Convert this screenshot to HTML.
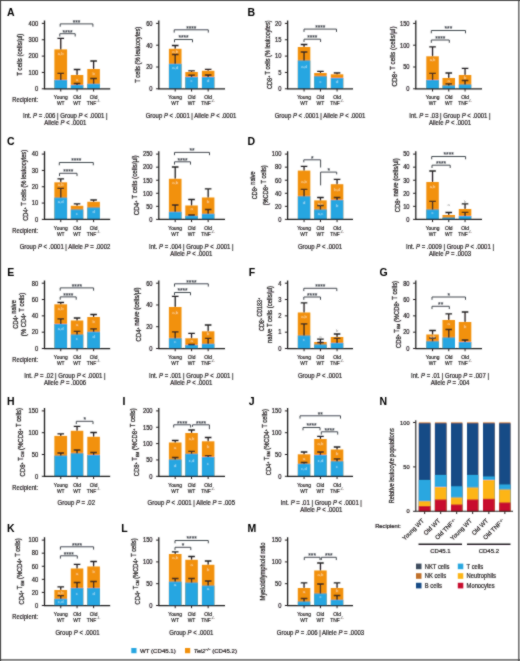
<!DOCTYPE html>
<html><head><meta charset="utf-8"><style>
html,body{margin:0;padding:0;background:#fff;}
body{width:520px;height:661px;overflow:hidden;font-family:"Liberation Sans",sans-serif;}
svg{display:block;will-change:transform;}
</style></head><body>
<svg width="520" height="661" viewBox="0 0 520 661" font-family="Liberation Sans, sans-serif">
<defs><filter id="bl" x="0" y="0" width="520" height="661" filterUnits="userSpaceOnUse"><feConvolveMatrix order="3" kernelMatrix="1 2 1 2 16 2 1 2 1" divisor="28" edgeMode="duplicate" preserveAlpha="false"/></filter></defs>
<rect width="520" height="661" fill="#fff"/>
<g filter="url(#bl)">
<text x="7.00" y="15.80" font-size="10.5" text-anchor="start" fill="#000" font-weight="bold">A</text>
<text x="247.50" y="15.80" font-size="10.5" text-anchor="start" fill="#000" font-weight="bold">B</text>
<text x="7.00" y="145.00" font-size="10.5" text-anchor="start" fill="#000" font-weight="bold">C</text>
<text x="247.50" y="145.00" font-size="10.5" text-anchor="start" fill="#000" font-weight="bold">D</text>
<text x="7.30" y="275.50" font-size="10.5" text-anchor="start" fill="#000" font-weight="bold">E</text>
<text x="248.70" y="275.50" font-size="10.5" text-anchor="start" fill="#000" font-weight="bold">F</text>
<text x="379.50" y="275.50" font-size="10.5" text-anchor="start" fill="#000" font-weight="bold">G</text>
<text x="7.00" y="405.00" font-size="10.5" text-anchor="start" fill="#000" font-weight="bold">H</text>
<text x="122.50" y="405.00" font-size="10.5" text-anchor="start" fill="#000" font-weight="bold">I</text>
<text x="248.70" y="405.00" font-size="10.5" text-anchor="start" fill="#000" font-weight="bold">J</text>
<text x="379.50" y="405.00" font-size="10.5" text-anchor="start" fill="#000" font-weight="bold">N</text>
<text x="7.00" y="532.00" font-size="10.5" text-anchor="start" fill="#000" font-weight="bold">K</text>
<text x="121.30" y="532.00" font-size="10.5" text-anchor="start" fill="#000" font-weight="bold">L</text>
<text x="247.50" y="532.00" font-size="10.5" text-anchor="start" fill="#000" font-weight="bold">M</text>
<rect x="54.4" y="49.4" width="12.70" height="39.40" fill="#F2910A"/>
<rect x="54.4" y="79.9" width="12.70" height="8.90" fill="#25A6E1"/>
<rect x="70.8" y="75.0" width="12.50" height="13.80" fill="#F2910A"/>
<rect x="70.8" y="85.0" width="12.50" height="3.80" fill="#25A6E1"/>
<rect x="87.3" y="69.0" width="12.60" height="19.80" fill="#F2910A"/>
<rect x="87.3" y="83.8" width="12.60" height="5.00" fill="#25A6E1"/>
<path d="M60.75 49.40V38.40M57.45 38.40H64.05" stroke="#231F20" stroke-width="1.3" fill="none"/>
<path d="M60.75 79.90V73.40M57.45 73.40H64.05" stroke="#231F20" stroke-width="1.3" fill="none"/>
<text x="60.75" y="55.10" font-size="4.2" text-anchor="middle" fill="#fff" font-weight="normal" opacity="0.7">a,b</text>
<path d="M77.05 75.00V69.50M73.75 69.50H80.35" stroke="#231F20" stroke-width="1.3" fill="none"/>
<path d="M77.05 85.00V83.50M73.75 83.50H80.35" stroke="#231F20" stroke-width="1.3" fill="none"/>
<text x="77.05" y="80.80" font-size="4.2" text-anchor="middle" fill="#fff" font-weight="normal" opacity="0.7">a</text>
<path d="M93.60 69.00V61.00M90.30 61.00H96.90" stroke="#231F20" stroke-width="1.3" fill="none"/>
<path d="M93.60 83.80V78.50M90.30 78.50H96.90" stroke="#231F20" stroke-width="1.3" fill="none"/>
<text x="93.60" y="74.80" font-size="4.2" text-anchor="middle" fill="#fff" font-weight="normal" opacity="0.7">b</text>
<path d="M44.5 20.60V88.8H110.2" stroke="#1a1a1a" stroke-width="1.25" fill="none"/>
<path d="M41.80 23.40H44.5" stroke="#231F20" stroke-width="1.0"/>
<text x="38.30" y="25.70" font-size="6.4" text-anchor="end" fill="#231F20" font-weight="normal" textLength="9.68" lengthAdjust="spacingAndGlyphs" stroke="#231F20" stroke-width="0.22">400</text>
<path d="M41.80 39.75H44.5" stroke="#231F20" stroke-width="1.0"/>
<text x="38.30" y="42.05" font-size="6.4" text-anchor="end" fill="#231F20" font-weight="normal" textLength="9.68" lengthAdjust="spacingAndGlyphs" stroke="#231F20" stroke-width="0.22">300</text>
<path d="M41.80 56.10H44.5" stroke="#231F20" stroke-width="1.0"/>
<text x="38.30" y="58.40" font-size="6.4" text-anchor="end" fill="#231F20" font-weight="normal" textLength="9.68" lengthAdjust="spacingAndGlyphs" stroke="#231F20" stroke-width="0.22">200</text>
<path d="M41.80 72.45H44.5" stroke="#231F20" stroke-width="1.0"/>
<text x="38.30" y="74.75" font-size="6.4" text-anchor="end" fill="#231F20" font-weight="normal" textLength="9.68" lengthAdjust="spacingAndGlyphs" stroke="#231F20" stroke-width="0.22">100</text>
<path d="M41.80 88.80H44.5" stroke="#231F20" stroke-width="1.0"/>
<text x="38.30" y="91.10" font-size="6.4" text-anchor="end" fill="#231F20" font-weight="normal" textLength="3.23" lengthAdjust="spacingAndGlyphs" stroke="#231F20" stroke-width="0.22">0</text>
<path d="M60.75 88.8V91.50" stroke="#231F20" stroke-width="1.0"/>
<text x="60.75" y="99.00" font-size="6.0" text-anchor="middle" fill="#231F20" font-weight="normal" textLength="13.80" lengthAdjust="spacingAndGlyphs" stroke="#231F20" stroke-width="0.22">Young</text>
<text x="60.75" y="105.00" font-size="6.0" text-anchor="middle" fill="#231F20" font-weight="normal" textLength="7.66" lengthAdjust="spacingAndGlyphs" stroke="#231F20" stroke-width="0.22">WT</text>
<path d="M77.05 88.8V91.50" stroke="#231F20" stroke-width="1.0"/>
<text x="77.05" y="99.00" font-size="6.0" text-anchor="middle" fill="#231F20" font-weight="normal" textLength="7.67" lengthAdjust="spacingAndGlyphs" stroke="#231F20" stroke-width="0.22">Old</text>
<text x="77.05" y="105.00" font-size="6.0" text-anchor="middle" fill="#231F20" font-weight="normal" textLength="7.66" lengthAdjust="spacingAndGlyphs" stroke="#231F20" stroke-width="0.22">WT</text>
<path d="M93.60 88.8V91.50" stroke="#231F20" stroke-width="1.0"/>
<text x="93.60" y="99.00" font-size="6.0" text-anchor="middle" fill="#231F20" font-weight="normal" textLength="7.67" lengthAdjust="spacingAndGlyphs" stroke="#231F20" stroke-width="0.22">Old</text>
<text x="91.50" y="105.00" font-size="6.0" text-anchor="middle" fill="#231F20" font-weight="normal" textLength="9.58" lengthAdjust="spacingAndGlyphs" stroke="#231F20" stroke-width="0.22">TNF</text>
<text x="96.39" y="102.00" font-size="2.8" text-anchor="start" fill="#231F20" font-weight="normal" stroke="#231F20" stroke-width="0.1">&#8722;/&#8722;</text>
<path d="M59.8 36.50V33.7H75.2V36.50" stroke="#3a3f47" stroke-width="0.95" fill="none"/>
<text x="67.50" y="34.60" font-size="6.5" text-anchor="middle" fill="#3a3f47" font-weight="normal" stroke="#3a3f47" stroke-width="0.15">****</text>
<path d="M60.2 26.70V23.9H92.9V26.70" stroke="#3a3f47" stroke-width="0.95" fill="none"/>
<text x="76.55" y="24.80" font-size="6.5" text-anchor="middle" fill="#3a3f47" font-weight="normal" stroke="#3a3f47" stroke-width="0.15">***</text>
<text x="65.30" y="118.30" font-size="6.9" text-anchor="middle" fill="#231F20" font-weight="normal" textLength="84.62" lengthAdjust="spacingAndGlyphs" stroke="#231F20" stroke-width="0.22">Int. <tspan font-style="italic">P</tspan> = .006 | Group <tspan font-style="italic">P</tspan> &lt; .0001 |</text>
<text x="65.30" y="125.00" font-size="6.9" text-anchor="middle" fill="#231F20" font-weight="normal" textLength="42.09" lengthAdjust="spacingAndGlyphs" stroke="#231F20" stroke-width="0.22">Allele <tspan font-style="italic">P</tspan> &lt; .0001</text>
<g transform="translate(20.00,54.70) rotate(-90)">
<text x="0" y="2.4" font-size="6.6" text-anchor="middle" fill="#231F20" stroke="#231F20" stroke-width="0.25" textLength="42.00" lengthAdjust="spacingAndGlyphs">T cells (cells/µl)</text>
</g>
<text x="12.30" y="102.20" font-size="6.5" text-anchor="start" fill="#231F20" font-weight="normal" textLength="25.79" lengthAdjust="spacingAndGlyphs" stroke="#231F20" stroke-width="0.22">Recipient:</text>
<rect x="168.9" y="48.8" width="12.60" height="40.00" fill="#F2910A"/>
<rect x="168.9" y="63.8" width="12.60" height="25.00" fill="#25A6E1"/>
<rect x="185.3" y="72.0" width="12.50" height="16.80" fill="#F2910A"/>
<rect x="185.3" y="77.0" width="12.50" height="11.80" fill="#25A6E1"/>
<rect x="201.9" y="70.8" width="12.50" height="18.00" fill="#F2910A"/>
<rect x="201.9" y="77.0" width="12.50" height="11.80" fill="#25A6E1"/>
<path d="M175.20 48.80V45.50M171.90 45.50H178.50" stroke="#231F20" stroke-width="1.3" fill="none"/>
<path d="M175.20 63.80V54.50M171.90 54.50H178.50" stroke="#231F20" stroke-width="1.3" fill="none"/>
<text x="175.20" y="52.80" font-size="4.2" text-anchor="middle" fill="#fff" font-weight="normal" opacity="0.7">a,b</text>
<text x="175.20" y="68.80" font-size="4.2" text-anchor="middle" fill="#fff" font-weight="normal" opacity="0.7">a,d</text>
<path d="M191.55 72.00V70.80M188.25 70.80H194.85" stroke="#231F20" stroke-width="1.3" fill="none"/>
<path d="M191.55 77.00V75.20M188.25 75.20H194.85" stroke="#231F20" stroke-width="1.3" fill="none"/>
<text x="191.55" y="81.80" font-size="4.2" text-anchor="middle" fill="#fff" font-weight="normal" opacity="0.7">c</text>
<path d="M208.15 70.80V69.30M204.85 69.30H211.45" stroke="#231F20" stroke-width="1.3" fill="none"/>
<path d="M208.15 77.00V75.00M204.85 75.00H211.45" stroke="#231F20" stroke-width="1.3" fill="none"/>
<text x="208.15" y="81.80" font-size="4.2" text-anchor="middle" fill="#fff" font-weight="normal" opacity="0.7">d</text>
<path d="M158.8 20.60V88.8H225.0" stroke="#1a1a1a" stroke-width="1.25" fill="none"/>
<path d="M156.10 23.40H158.8" stroke="#231F20" stroke-width="1.0"/>
<text x="152.60" y="25.70" font-size="6.4" text-anchor="end" fill="#231F20" font-weight="normal" textLength="6.45" lengthAdjust="spacingAndGlyphs" stroke="#231F20" stroke-width="0.22">60</text>
<path d="M156.10 45.20H158.8" stroke="#231F20" stroke-width="1.0"/>
<text x="152.60" y="47.50" font-size="6.4" text-anchor="end" fill="#231F20" font-weight="normal" textLength="6.45" lengthAdjust="spacingAndGlyphs" stroke="#231F20" stroke-width="0.22">40</text>
<path d="M156.10 67.00H158.8" stroke="#231F20" stroke-width="1.0"/>
<text x="152.60" y="69.30" font-size="6.4" text-anchor="end" fill="#231F20" font-weight="normal" textLength="6.45" lengthAdjust="spacingAndGlyphs" stroke="#231F20" stroke-width="0.22">20</text>
<path d="M156.10 88.80H158.8" stroke="#231F20" stroke-width="1.0"/>
<text x="152.60" y="91.10" font-size="6.4" text-anchor="end" fill="#231F20" font-weight="normal" textLength="3.23" lengthAdjust="spacingAndGlyphs" stroke="#231F20" stroke-width="0.22">0</text>
<path d="M175.20 88.8V91.50" stroke="#231F20" stroke-width="1.0"/>
<text x="175.20" y="99.00" font-size="6.0" text-anchor="middle" fill="#231F20" font-weight="normal" textLength="13.80" lengthAdjust="spacingAndGlyphs" stroke="#231F20" stroke-width="0.22">Young</text>
<text x="175.20" y="105.00" font-size="6.0" text-anchor="middle" fill="#231F20" font-weight="normal" textLength="7.66" lengthAdjust="spacingAndGlyphs" stroke="#231F20" stroke-width="0.22">WT</text>
<path d="M191.55 88.8V91.50" stroke="#231F20" stroke-width="1.0"/>
<text x="191.55" y="99.00" font-size="6.0" text-anchor="middle" fill="#231F20" font-weight="normal" textLength="7.67" lengthAdjust="spacingAndGlyphs" stroke="#231F20" stroke-width="0.22">Old</text>
<text x="191.55" y="105.00" font-size="6.0" text-anchor="middle" fill="#231F20" font-weight="normal" textLength="7.66" lengthAdjust="spacingAndGlyphs" stroke="#231F20" stroke-width="0.22">WT</text>
<path d="M208.15 88.8V91.50" stroke="#231F20" stroke-width="1.0"/>
<text x="208.15" y="99.00" font-size="6.0" text-anchor="middle" fill="#231F20" font-weight="normal" textLength="7.67" lengthAdjust="spacingAndGlyphs" stroke="#231F20" stroke-width="0.22">Old</text>
<text x="206.05" y="105.00" font-size="6.0" text-anchor="middle" fill="#231F20" font-weight="normal" textLength="9.58" lengthAdjust="spacingAndGlyphs" stroke="#231F20" stroke-width="0.22">TNF</text>
<text x="210.94" y="102.00" font-size="2.8" text-anchor="start" fill="#231F20" font-weight="normal" stroke="#231F20" stroke-width="0.1">&#8722;/&#8722;</text>
<path d="M174.5 42.30V39.5H192.5V42.30" stroke="#3a3f47" stroke-width="0.95" fill="none"/>
<text x="183.50" y="40.40" font-size="6.5" text-anchor="middle" fill="#3a3f47" font-weight="normal" stroke="#3a3f47" stroke-width="0.15">****</text>
<path d="M174.2 32.60V29.8H208.3V32.60" stroke="#3a3f47" stroke-width="0.95" fill="none"/>
<text x="191.25" y="30.70" font-size="6.5" text-anchor="middle" fill="#3a3f47" font-weight="normal" stroke="#3a3f47" stroke-width="0.15">****</text>
<text x="191.00" y="118.30" font-size="6.9" text-anchor="middle" fill="#231F20" font-weight="normal" textLength="90.73" lengthAdjust="spacingAndGlyphs" stroke="#231F20" stroke-width="0.22">Group <tspan font-style="italic">P</tspan> &lt; .0001 | Allele <tspan font-style="italic">P</tspan> &lt; .0001</text>
<g transform="translate(137.70,54.70) rotate(-90)">
<text x="0" y="2.4" font-size="6.6" text-anchor="middle" fill="#231F20" stroke="#231F20" stroke-width="0.25" textLength="56.00" lengthAdjust="spacingAndGlyphs">T cells (% leukocytes)</text>
</g>
<rect x="297.8" y="47.0" width="12.50" height="41.80" fill="#F2910A"/>
<rect x="297.8" y="60.5" width="12.50" height="28.30" fill="#25A6E1"/>
<rect x="314.2" y="73.0" width="12.50" height="15.80" fill="#F2910A"/>
<rect x="314.2" y="76.3" width="12.50" height="12.50" fill="#25A6E1"/>
<rect x="330.8" y="74.3" width="12.50" height="14.50" fill="#F2910A"/>
<rect x="330.8" y="78.0" width="12.50" height="10.80" fill="#25A6E1"/>
<path d="M304.05 47.00V44.50M300.75 44.50H307.35" stroke="#231F20" stroke-width="1.3" fill="none"/>
<path d="M304.05 60.50V52.00M300.75 52.00H307.35" stroke="#231F20" stroke-width="1.3" fill="none"/>
<text x="304.05" y="67.80" font-size="4.2" text-anchor="middle" fill="#fff" font-weight="normal" opacity="0.7">a,d</text>
<path d="M320.45 73.00V71.30M317.15 71.30H323.75" stroke="#231F20" stroke-width="1.3" fill="none"/>
<text x="320.45" y="83.30" font-size="4.2" text-anchor="middle" fill="#fff" font-weight="normal" opacity="0.7">c</text>
<path d="M337.05 74.30V73.00M333.75 73.00H340.35" stroke="#231F20" stroke-width="1.3" fill="none"/>
<text x="337.05" y="83.30" font-size="4.2" text-anchor="middle" fill="#fff" font-weight="normal" opacity="0.7">d</text>
<path d="M287.6 20.60V88.8H353.0" stroke="#1a1a1a" stroke-width="1.25" fill="none"/>
<path d="M284.90 23.40H287.6" stroke="#231F20" stroke-width="1.0"/>
<text x="281.40" y="25.70" font-size="6.4" text-anchor="end" fill="#231F20" font-weight="normal" textLength="6.45" lengthAdjust="spacingAndGlyphs" stroke="#231F20" stroke-width="0.22">20</text>
<path d="M284.90 39.75H287.6" stroke="#231F20" stroke-width="1.0"/>
<text x="281.40" y="42.05" font-size="6.4" text-anchor="end" fill="#231F20" font-weight="normal" textLength="6.45" lengthAdjust="spacingAndGlyphs" stroke="#231F20" stroke-width="0.22">15</text>
<path d="M284.90 56.10H287.6" stroke="#231F20" stroke-width="1.0"/>
<text x="281.40" y="58.40" font-size="6.4" text-anchor="end" fill="#231F20" font-weight="normal" textLength="6.45" lengthAdjust="spacingAndGlyphs" stroke="#231F20" stroke-width="0.22">10</text>
<path d="M284.90 72.45H287.6" stroke="#231F20" stroke-width="1.0"/>
<text x="281.40" y="74.75" font-size="6.4" text-anchor="end" fill="#231F20" font-weight="normal" textLength="3.23" lengthAdjust="spacingAndGlyphs" stroke="#231F20" stroke-width="0.22">5</text>
<path d="M284.90 88.80H287.6" stroke="#231F20" stroke-width="1.0"/>
<text x="281.40" y="91.10" font-size="6.4" text-anchor="end" fill="#231F20" font-weight="normal" textLength="3.23" lengthAdjust="spacingAndGlyphs" stroke="#231F20" stroke-width="0.22">0</text>
<path d="M304.05 88.8V91.50" stroke="#231F20" stroke-width="1.0"/>
<text x="304.05" y="99.00" font-size="6.0" text-anchor="middle" fill="#231F20" font-weight="normal" textLength="13.80" lengthAdjust="spacingAndGlyphs" stroke="#231F20" stroke-width="0.22">Young</text>
<text x="304.05" y="105.00" font-size="6.0" text-anchor="middle" fill="#231F20" font-weight="normal" textLength="7.66" lengthAdjust="spacingAndGlyphs" stroke="#231F20" stroke-width="0.22">WT</text>
<path d="M320.45 88.8V91.50" stroke="#231F20" stroke-width="1.0"/>
<text x="320.45" y="99.00" font-size="6.0" text-anchor="middle" fill="#231F20" font-weight="normal" textLength="7.67" lengthAdjust="spacingAndGlyphs" stroke="#231F20" stroke-width="0.22">Old</text>
<text x="320.45" y="105.00" font-size="6.0" text-anchor="middle" fill="#231F20" font-weight="normal" textLength="7.66" lengthAdjust="spacingAndGlyphs" stroke="#231F20" stroke-width="0.22">WT</text>
<path d="M337.05 88.8V91.50" stroke="#231F20" stroke-width="1.0"/>
<text x="337.05" y="99.00" font-size="6.0" text-anchor="middle" fill="#231F20" font-weight="normal" textLength="7.67" lengthAdjust="spacingAndGlyphs" stroke="#231F20" stroke-width="0.22">Old</text>
<text x="334.95" y="105.00" font-size="6.0" text-anchor="middle" fill="#231F20" font-weight="normal" textLength="9.58" lengthAdjust="spacingAndGlyphs" stroke="#231F20" stroke-width="0.22">TNF</text>
<text x="339.84" y="102.00" font-size="2.8" text-anchor="start" fill="#231F20" font-weight="normal" stroke="#231F20" stroke-width="0.1">&#8722;/&#8722;</text>
<path d="M304.0 42.00V39.2H320.6V42.00" stroke="#3a3f47" stroke-width="0.95" fill="none"/>
<text x="312.30" y="40.10" font-size="6.5" text-anchor="middle" fill="#3a3f47" font-weight="normal" stroke="#3a3f47" stroke-width="0.15">****</text>
<path d="M304.0 31.90V29.1H336.5V31.90" stroke="#3a3f47" stroke-width="0.95" fill="none"/>
<text x="320.25" y="30.00" font-size="6.5" text-anchor="middle" fill="#3a3f47" font-weight="normal" stroke="#3a3f47" stroke-width="0.15">****</text>
<text x="320.00" y="118.30" font-size="6.9" text-anchor="middle" fill="#231F20" font-weight="normal" textLength="90.73" lengthAdjust="spacingAndGlyphs" stroke="#231F20" stroke-width="0.22">Group <tspan font-style="italic">P</tspan> &lt; .0001 | Allele <tspan font-style="italic">P</tspan> &lt; .0001</text>
<g transform="translate(269.30,54.70) rotate(-90)">
<text x="0" y="2.4" font-size="6.6" text-anchor="middle" fill="#231F20" stroke="#231F20" stroke-width="0.25" textLength="68.50" lengthAdjust="spacingAndGlyphs">CD8<tspan font-size="4" dy="-2">+</tspan><tspan dy="2"></tspan> T cells (% leukocytes)</text>
</g>
<rect x="426.3" y="56.3" width="12.50" height="32.50" fill="#F2910A"/>
<rect x="426.3" y="80.0" width="12.50" height="8.80" fill="#25A6E1"/>
<rect x="442.5" y="78.0" width="12.50" height="10.80" fill="#F2910A"/>
<rect x="442.5" y="85.5" width="12.50" height="3.30" fill="#25A6E1"/>
<rect x="458.8" y="75.0" width="12.50" height="13.80" fill="#F2910A"/>
<rect x="458.8" y="84.5" width="12.50" height="4.30" fill="#25A6E1"/>
<path d="M432.55 56.30V46.80M429.25 46.80H435.85" stroke="#231F20" stroke-width="1.3" fill="none"/>
<path d="M432.55 80.00V73.30M429.25 73.30H435.85" stroke="#231F20" stroke-width="1.3" fill="none"/>
<text x="432.55" y="60.80" font-size="4.2" text-anchor="middle" fill="#fff" font-weight="normal" opacity="0.7">a,b</text>
<path d="M448.75 78.00V73.00M445.45 73.00H452.05" stroke="#231F20" stroke-width="1.3" fill="none"/>
<path d="M448.75 85.50V83.80M445.45 83.80H452.05" stroke="#231F20" stroke-width="1.3" fill="none"/>
<text x="448.75" y="82.30" font-size="4.2" text-anchor="middle" fill="#fff" font-weight="normal" opacity="0.7">a</text>
<path d="M465.05 75.00V68.30M461.75 68.30H468.35" stroke="#231F20" stroke-width="1.3" fill="none"/>
<path d="M465.05 84.50V80.50M461.75 80.50H468.35" stroke="#231F20" stroke-width="1.3" fill="none"/>
<text x="465.05" y="78.80" font-size="4.2" text-anchor="middle" fill="#fff" font-weight="normal" opacity="0.7">b</text>
<path d="M415.8 20.60V88.8H482.0" stroke="#1a1a1a" stroke-width="1.25" fill="none"/>
<path d="M413.10 23.40H415.8" stroke="#231F20" stroke-width="1.0"/>
<text x="409.60" y="25.70" font-size="6.4" text-anchor="end" fill="#231F20" font-weight="normal" textLength="9.68" lengthAdjust="spacingAndGlyphs" stroke="#231F20" stroke-width="0.22">150</text>
<path d="M413.10 45.20H415.8" stroke="#231F20" stroke-width="1.0"/>
<text x="409.60" y="47.50" font-size="6.4" text-anchor="end" fill="#231F20" font-weight="normal" textLength="9.68" lengthAdjust="spacingAndGlyphs" stroke="#231F20" stroke-width="0.22">100</text>
<path d="M413.10 67.00H415.8" stroke="#231F20" stroke-width="1.0"/>
<text x="409.60" y="69.30" font-size="6.4" text-anchor="end" fill="#231F20" font-weight="normal" textLength="6.45" lengthAdjust="spacingAndGlyphs" stroke="#231F20" stroke-width="0.22">50</text>
<path d="M413.10 88.80H415.8" stroke="#231F20" stroke-width="1.0"/>
<text x="409.60" y="91.10" font-size="6.4" text-anchor="end" fill="#231F20" font-weight="normal" textLength="3.23" lengthAdjust="spacingAndGlyphs" stroke="#231F20" stroke-width="0.22">0</text>
<path d="M432.55 88.8V91.50" stroke="#231F20" stroke-width="1.0"/>
<text x="432.55" y="99.00" font-size="6.0" text-anchor="middle" fill="#231F20" font-weight="normal" textLength="13.80" lengthAdjust="spacingAndGlyphs" stroke="#231F20" stroke-width="0.22">Young</text>
<text x="432.55" y="105.00" font-size="6.0" text-anchor="middle" fill="#231F20" font-weight="normal" textLength="7.66" lengthAdjust="spacingAndGlyphs" stroke="#231F20" stroke-width="0.22">WT</text>
<path d="M448.75 88.8V91.50" stroke="#231F20" stroke-width="1.0"/>
<text x="448.75" y="99.00" font-size="6.0" text-anchor="middle" fill="#231F20" font-weight="normal" textLength="7.67" lengthAdjust="spacingAndGlyphs" stroke="#231F20" stroke-width="0.22">Old</text>
<text x="448.75" y="105.00" font-size="6.0" text-anchor="middle" fill="#231F20" font-weight="normal" textLength="7.66" lengthAdjust="spacingAndGlyphs" stroke="#231F20" stroke-width="0.22">WT</text>
<path d="M465.05 88.8V91.50" stroke="#231F20" stroke-width="1.0"/>
<text x="465.05" y="99.00" font-size="6.0" text-anchor="middle" fill="#231F20" font-weight="normal" textLength="7.67" lengthAdjust="spacingAndGlyphs" stroke="#231F20" stroke-width="0.22">Old</text>
<text x="462.95" y="105.00" font-size="6.0" text-anchor="middle" fill="#231F20" font-weight="normal" textLength="9.58" lengthAdjust="spacingAndGlyphs" stroke="#231F20" stroke-width="0.22">TNF</text>
<text x="467.84" y="102.00" font-size="2.8" text-anchor="start" fill="#231F20" font-weight="normal" stroke="#231F20" stroke-width="0.1">&#8722;/&#8722;</text>
<path d="M431.3 42.80V40.0H449.3V42.80" stroke="#3a3f47" stroke-width="0.95" fill="none"/>
<text x="440.30" y="40.90" font-size="6.5" text-anchor="middle" fill="#3a3f47" font-weight="normal" stroke="#3a3f47" stroke-width="0.15">****</text>
<path d="M431.3 33.30V30.5H465.5V33.30" stroke="#3a3f47" stroke-width="0.95" fill="none"/>
<text x="448.40" y="31.40" font-size="6.5" text-anchor="middle" fill="#3a3f47" font-weight="normal" stroke="#3a3f47" stroke-width="0.15">***</text>
<text x="450.00" y="118.30" font-size="6.9" text-anchor="middle" fill="#231F20" font-weight="normal" textLength="81.28" lengthAdjust="spacingAndGlyphs" stroke="#231F20" stroke-width="0.22">Int. <tspan font-style="italic">P</tspan> = .03 | Group <tspan font-style="italic">P</tspan> &lt; .0001 |</text>
<text x="450.00" y="125.00" font-size="6.9" text-anchor="middle" fill="#231F20" font-weight="normal" textLength="42.09" lengthAdjust="spacingAndGlyphs" stroke="#231F20" stroke-width="0.22">Allele <tspan font-style="italic">P</tspan> &lt; .0001</text>
<g transform="translate(394.80,56.50) rotate(-90)">
<text x="0" y="2.4" font-size="6.6" text-anchor="middle" fill="#231F20" stroke="#231F20" stroke-width="0.25" textLength="60.00" lengthAdjust="spacingAndGlyphs">CD8<tspan font-size="4" dy="-2">+</tspan><tspan dy="2"></tspan> T cells (cells/µl)</text>
</g>
<rect x="54.4" y="182.3" width="12.70" height="37.10" fill="#F2910A"/>
<rect x="54.4" y="197.6" width="12.70" height="21.80" fill="#25A6E1"/>
<rect x="70.8" y="205.8" width="12.50" height="13.60" fill="#F2910A"/>
<rect x="70.8" y="209.5" width="12.50" height="9.90" fill="#25A6E1"/>
<rect x="87.3" y="201.8" width="12.60" height="17.60" fill="#F2910A"/>
<rect x="87.3" y="207.5" width="12.60" height="11.90" fill="#25A6E1"/>
<path d="M60.75 182.30V178.80M57.45 178.80H64.05" stroke="#231F20" stroke-width="1.3" fill="none"/>
<path d="M60.75 197.60V188.30M57.45 188.30H64.05" stroke="#231F20" stroke-width="1.3" fill="none"/>
<text x="60.75" y="185.80" font-size="4.2" text-anchor="middle" fill="#fff" font-weight="normal" opacity="0.7">a,b</text>
<text x="60.75" y="202.80" font-size="4.2" text-anchor="middle" fill="#fff" font-weight="normal" opacity="0.7">a,d</text>
<path d="M77.05 205.80V203.80M73.75 203.80H80.35" stroke="#231F20" stroke-width="1.3" fill="none"/>
<text x="77.05" y="214.80" font-size="4.2" text-anchor="middle" fill="#fff" font-weight="normal" opacity="0.7">c</text>
<path d="M93.60 201.80V200.00M90.30 200.00H96.90" stroke="#231F20" stroke-width="1.3" fill="none"/>
<text x="93.60" y="212.80" font-size="4.2" text-anchor="middle" fill="#fff" font-weight="normal" opacity="0.7">d</text>
<path d="M44.5 151.30V219.4H110.2" stroke="#1a1a1a" stroke-width="1.25" fill="none"/>
<path d="M41.80 154.10H44.5" stroke="#231F20" stroke-width="1.0"/>
<text x="38.30" y="156.40" font-size="6.4" text-anchor="end" fill="#231F20" font-weight="normal" textLength="6.45" lengthAdjust="spacingAndGlyphs" stroke="#231F20" stroke-width="0.22">40</text>
<path d="M41.80 170.43H44.5" stroke="#231F20" stroke-width="1.0"/>
<text x="38.30" y="172.73" font-size="6.4" text-anchor="end" fill="#231F20" font-weight="normal" textLength="6.45" lengthAdjust="spacingAndGlyphs" stroke="#231F20" stroke-width="0.22">30</text>
<path d="M41.80 186.75H44.5" stroke="#231F20" stroke-width="1.0"/>
<text x="38.30" y="189.05" font-size="6.4" text-anchor="end" fill="#231F20" font-weight="normal" textLength="6.45" lengthAdjust="spacingAndGlyphs" stroke="#231F20" stroke-width="0.22">20</text>
<path d="M41.80 203.07H44.5" stroke="#231F20" stroke-width="1.0"/>
<text x="38.30" y="205.38" font-size="6.4" text-anchor="end" fill="#231F20" font-weight="normal" textLength="6.45" lengthAdjust="spacingAndGlyphs" stroke="#231F20" stroke-width="0.22">10</text>
<path d="M41.80 219.40H44.5" stroke="#231F20" stroke-width="1.0"/>
<text x="38.30" y="221.70" font-size="6.4" text-anchor="end" fill="#231F20" font-weight="normal" textLength="3.23" lengthAdjust="spacingAndGlyphs" stroke="#231F20" stroke-width="0.22">0</text>
<path d="M60.75 219.4V222.10" stroke="#231F20" stroke-width="1.0"/>
<text x="60.75" y="229.70" font-size="6.0" text-anchor="middle" fill="#231F20" font-weight="normal" textLength="13.80" lengthAdjust="spacingAndGlyphs" stroke="#231F20" stroke-width="0.22">Young</text>
<text x="60.75" y="235.50" font-size="6.0" text-anchor="middle" fill="#231F20" font-weight="normal" textLength="7.66" lengthAdjust="spacingAndGlyphs" stroke="#231F20" stroke-width="0.22">WT</text>
<path d="M77.05 219.4V222.10" stroke="#231F20" stroke-width="1.0"/>
<text x="77.05" y="229.70" font-size="6.0" text-anchor="middle" fill="#231F20" font-weight="normal" textLength="7.67" lengthAdjust="spacingAndGlyphs" stroke="#231F20" stroke-width="0.22">Old</text>
<text x="77.05" y="235.50" font-size="6.0" text-anchor="middle" fill="#231F20" font-weight="normal" textLength="7.66" lengthAdjust="spacingAndGlyphs" stroke="#231F20" stroke-width="0.22">WT</text>
<path d="M93.60 219.4V222.10" stroke="#231F20" stroke-width="1.0"/>
<text x="93.60" y="229.70" font-size="6.0" text-anchor="middle" fill="#231F20" font-weight="normal" textLength="7.67" lengthAdjust="spacingAndGlyphs" stroke="#231F20" stroke-width="0.22">Old</text>
<text x="91.50" y="235.50" font-size="6.0" text-anchor="middle" fill="#231F20" font-weight="normal" textLength="9.58" lengthAdjust="spacingAndGlyphs" stroke="#231F20" stroke-width="0.22">TNF</text>
<text x="96.39" y="232.50" font-size="2.8" text-anchor="start" fill="#231F20" font-weight="normal" stroke="#231F20" stroke-width="0.1">&#8722;/&#8722;</text>
<path d="M59.5 176.10V173.3H77.0V176.10" stroke="#3a3f47" stroke-width="0.95" fill="none"/>
<text x="68.25" y="174.20" font-size="6.5" text-anchor="middle" fill="#3a3f47" font-weight="normal" stroke="#3a3f47" stroke-width="0.15">****</text>
<path d="M59.3 165.30V162.5H93.3V165.30" stroke="#3a3f47" stroke-width="0.95" fill="none"/>
<text x="76.30" y="163.40" font-size="6.5" text-anchor="middle" fill="#3a3f47" font-weight="normal" stroke="#3a3f47" stroke-width="0.15">****</text>
<text x="65.00" y="248.70" font-size="6.9" text-anchor="middle" fill="#231F20" font-weight="normal" textLength="90.73" lengthAdjust="spacingAndGlyphs" stroke="#231F20" stroke-width="0.22">Group <tspan font-style="italic">P</tspan> &lt; .0001 | Allele <tspan font-style="italic">P</tspan> = .0002</text>
<g transform="translate(25.10,185.35) rotate(-90)">
<text x="0" y="2.4" font-size="6.6" text-anchor="middle" fill="#231F20" stroke="#231F20" stroke-width="0.25" textLength="71.00" lengthAdjust="spacingAndGlyphs">CD4<tspan font-size="4" dy="-2">+</tspan><tspan dy="2"></tspan> T cells (% leukocytes)</text>
</g>
<text x="12.30" y="232.80" font-size="6.5" text-anchor="start" fill="#231F20" font-weight="normal" textLength="25.79" lengthAdjust="spacingAndGlyphs" stroke="#231F20" stroke-width="0.22">Recipient:</text>
<rect x="168.9" y="178.8" width="12.60" height="40.60" fill="#F2910A"/>
<rect x="168.9" y="211.8" width="12.60" height="7.60" fill="#25A6E1"/>
<rect x="185.3" y="205.5" width="12.50" height="13.90" fill="#F2910A"/>
<rect x="185.3" y="215.8" width="12.50" height="3.60" fill="#25A6E1"/>
<rect x="201.9" y="197.5" width="12.50" height="21.90" fill="#F2910A"/>
<rect x="201.9" y="213.8" width="12.50" height="5.60" fill="#25A6E1"/>
<path d="M175.20 178.80V167.00M171.90 167.00H178.50" stroke="#231F20" stroke-width="1.3" fill="none"/>
<path d="M175.20 211.80V205.00M171.90 205.00H178.50" stroke="#231F20" stroke-width="1.3" fill="none"/>
<text x="175.20" y="184.30" font-size="4.2" text-anchor="middle" fill="#fff" font-weight="normal" opacity="0.7">a,b</text>
<path d="M191.55 205.50V199.50M188.25 199.50H194.85" stroke="#231F20" stroke-width="1.3" fill="none"/>
<path d="M191.55 215.80V215.00M188.25 215.00H194.85" stroke="#231F20" stroke-width="1.3" fill="none"/>
<text x="191.55" y="210.30" font-size="4.2" text-anchor="middle" fill="#fff" font-weight="normal" opacity="0.7">a</text>
<path d="M208.15 197.50V188.80M204.85 188.80H211.45" stroke="#231F20" stroke-width="1.3" fill="none"/>
<path d="M208.15 213.80V209.50M204.85 209.50H211.45" stroke="#231F20" stroke-width="1.3" fill="none"/>
<text x="208.15" y="202.80" font-size="4.2" text-anchor="middle" fill="#fff" font-weight="normal" opacity="0.7">b</text>
<path d="M158.8 151.30V219.4H225.0" stroke="#1a1a1a" stroke-width="1.25" fill="none"/>
<path d="M156.10 154.10H158.8" stroke="#231F20" stroke-width="1.0"/>
<text x="152.60" y="156.40" font-size="6.4" text-anchor="end" fill="#231F20" font-weight="normal" textLength="9.68" lengthAdjust="spacingAndGlyphs" stroke="#231F20" stroke-width="0.22">250</text>
<path d="M156.10 167.16H158.8" stroke="#231F20" stroke-width="1.0"/>
<text x="152.60" y="169.46" font-size="6.4" text-anchor="end" fill="#231F20" font-weight="normal" textLength="9.68" lengthAdjust="spacingAndGlyphs" stroke="#231F20" stroke-width="0.22">200</text>
<path d="M156.10 180.22H158.8" stroke="#231F20" stroke-width="1.0"/>
<text x="152.60" y="182.52" font-size="6.4" text-anchor="end" fill="#231F20" font-weight="normal" textLength="9.68" lengthAdjust="spacingAndGlyphs" stroke="#231F20" stroke-width="0.22">150</text>
<path d="M156.10 193.28H158.8" stroke="#231F20" stroke-width="1.0"/>
<text x="152.60" y="195.58" font-size="6.4" text-anchor="end" fill="#231F20" font-weight="normal" textLength="9.68" lengthAdjust="spacingAndGlyphs" stroke="#231F20" stroke-width="0.22">100</text>
<path d="M156.10 206.34H158.8" stroke="#231F20" stroke-width="1.0"/>
<text x="152.60" y="208.64" font-size="6.4" text-anchor="end" fill="#231F20" font-weight="normal" textLength="6.45" lengthAdjust="spacingAndGlyphs" stroke="#231F20" stroke-width="0.22">50</text>
<path d="M156.10 219.40H158.8" stroke="#231F20" stroke-width="1.0"/>
<text x="152.60" y="221.70" font-size="6.4" text-anchor="end" fill="#231F20" font-weight="normal" textLength="3.23" lengthAdjust="spacingAndGlyphs" stroke="#231F20" stroke-width="0.22">0</text>
<path d="M175.20 219.4V222.10" stroke="#231F20" stroke-width="1.0"/>
<text x="175.20" y="229.70" font-size="6.0" text-anchor="middle" fill="#231F20" font-weight="normal" textLength="13.80" lengthAdjust="spacingAndGlyphs" stroke="#231F20" stroke-width="0.22">Young</text>
<text x="175.20" y="235.50" font-size="6.0" text-anchor="middle" fill="#231F20" font-weight="normal" textLength="7.66" lengthAdjust="spacingAndGlyphs" stroke="#231F20" stroke-width="0.22">WT</text>
<path d="M191.55 219.4V222.10" stroke="#231F20" stroke-width="1.0"/>
<text x="191.55" y="229.70" font-size="6.0" text-anchor="middle" fill="#231F20" font-weight="normal" textLength="7.67" lengthAdjust="spacingAndGlyphs" stroke="#231F20" stroke-width="0.22">Old</text>
<text x="191.55" y="235.50" font-size="6.0" text-anchor="middle" fill="#231F20" font-weight="normal" textLength="7.66" lengthAdjust="spacingAndGlyphs" stroke="#231F20" stroke-width="0.22">WT</text>
<path d="M208.15 219.4V222.10" stroke="#231F20" stroke-width="1.0"/>
<text x="208.15" y="229.70" font-size="6.0" text-anchor="middle" fill="#231F20" font-weight="normal" textLength="7.67" lengthAdjust="spacingAndGlyphs" stroke="#231F20" stroke-width="0.22">Old</text>
<text x="206.05" y="235.50" font-size="6.0" text-anchor="middle" fill="#231F20" font-weight="normal" textLength="9.58" lengthAdjust="spacingAndGlyphs" stroke="#231F20" stroke-width="0.22">TNF</text>
<text x="210.94" y="232.50" font-size="2.8" text-anchor="start" fill="#231F20" font-weight="normal" stroke="#231F20" stroke-width="0.1">&#8722;/&#8722;</text>
<path d="M174.5 164.60V161.8H190.5V164.60" stroke="#3a3f47" stroke-width="0.95" fill="none"/>
<text x="182.50" y="162.70" font-size="6.5" text-anchor="middle" fill="#3a3f47" font-weight="normal" stroke="#3a3f47" stroke-width="0.15">****</text>
<path d="M174.5 155.20V152.4H209.5V155.20" stroke="#3a3f47" stroke-width="0.95" fill="none"/>
<text x="192.00" y="153.30" font-size="6.5" text-anchor="middle" fill="#3a3f47" font-weight="normal" stroke="#3a3f47" stroke-width="0.15">**</text>
<text x="191.30" y="248.70" font-size="6.9" text-anchor="middle" fill="#231F20" font-weight="normal" textLength="84.62" lengthAdjust="spacingAndGlyphs" stroke="#231F20" stroke-width="0.22">Int. <tspan font-style="italic">P</tspan> = .004 | Group <tspan font-style="italic">P</tspan> &lt; .0001 |</text>
<text x="191.30" y="255.60" font-size="6.9" text-anchor="middle" fill="#231F20" font-weight="normal" textLength="42.09" lengthAdjust="spacingAndGlyphs" stroke="#231F20" stroke-width="0.22">Allele <tspan font-style="italic">P</tspan> &lt; .0001</text>
<g transform="translate(136.60,185.35) rotate(-90)">
<text x="0" y="2.4" font-size="6.6" text-anchor="middle" fill="#231F20" stroke="#231F20" stroke-width="0.25" textLength="60.00" lengthAdjust="spacingAndGlyphs">CD4<tspan font-size="4" dy="-2">+</tspan><tspan dy="2"></tspan> T cells (cells/µl)</text>
</g>
<rect x="297.8" y="170.6" width="12.50" height="48.80" fill="#F2910A"/>
<rect x="297.8" y="196.3" width="12.50" height="23.10" fill="#25A6E1"/>
<rect x="314.2" y="200.4" width="12.50" height="19.00" fill="#F2910A"/>
<rect x="314.2" y="209.5" width="12.50" height="9.90" fill="#25A6E1"/>
<rect x="330.8" y="184.2" width="12.50" height="35.20" fill="#F2910A"/>
<rect x="330.8" y="200.1" width="12.50" height="19.30" fill="#25A6E1"/>
<path d="M304.05 170.60V166.30M300.75 166.30H307.35" stroke="#231F20" stroke-width="1.3" fill="none"/>
<path d="M304.05 196.30V189.40M300.75 189.40H307.35" stroke="#231F20" stroke-width="1.3" fill="none"/>
<text x="304.05" y="183.30" font-size="4.2" text-anchor="middle" fill="#fff" font-weight="normal" opacity="0.7">a,b</text>
<text x="304.05" y="204.30" font-size="4.2" text-anchor="middle" fill="#fff" font-weight="normal" opacity="0.7">d</text>
<path d="M320.45 200.40V197.50M317.15 197.50H323.75" stroke="#231F20" stroke-width="1.3" fill="none"/>
<path d="M320.45 209.50V205.50M317.15 205.50H323.75" stroke="#231F20" stroke-width="1.3" fill="none"/>
<text x="320.45" y="204.80" font-size="4.2" text-anchor="middle" fill="#fff" font-weight="normal" opacity="0.7">a,c</text>
<text x="320.45" y="214.80" font-size="4.2" text-anchor="middle" fill="#fff" font-weight="normal" opacity="0.7">a,c</text>
<path d="M337.05 184.20V179.40M333.75 179.40H340.35" stroke="#231F20" stroke-width="1.3" fill="none"/>
<path d="M337.05 200.10V197.50M333.75 197.50H340.35" stroke="#231F20" stroke-width="1.3" fill="none"/>
<text x="337.05" y="190.80" font-size="4.2" text-anchor="middle" fill="#fff" font-weight="normal" opacity="0.7">b,d</text>
<text x="337.05" y="207.30" font-size="4.2" text-anchor="middle" fill="#fff" font-weight="normal" opacity="0.7">b</text>
<path d="M287.6 151.30V219.4H353.0" stroke="#1a1a1a" stroke-width="1.25" fill="none"/>
<path d="M284.90 154.10H287.6" stroke="#231F20" stroke-width="1.0"/>
<text x="281.40" y="156.40" font-size="6.4" text-anchor="end" fill="#231F20" font-weight="normal" textLength="9.68" lengthAdjust="spacingAndGlyphs" stroke="#231F20" stroke-width="0.22">100</text>
<path d="M284.90 167.16H287.6" stroke="#231F20" stroke-width="1.0"/>
<text x="281.40" y="169.46" font-size="6.4" text-anchor="end" fill="#231F20" font-weight="normal" textLength="6.45" lengthAdjust="spacingAndGlyphs" stroke="#231F20" stroke-width="0.22">80</text>
<path d="M284.90 180.22H287.6" stroke="#231F20" stroke-width="1.0"/>
<text x="281.40" y="182.52" font-size="6.4" text-anchor="end" fill="#231F20" font-weight="normal" textLength="6.45" lengthAdjust="spacingAndGlyphs" stroke="#231F20" stroke-width="0.22">60</text>
<path d="M284.90 193.28H287.6" stroke="#231F20" stroke-width="1.0"/>
<text x="281.40" y="195.58" font-size="6.4" text-anchor="end" fill="#231F20" font-weight="normal" textLength="6.45" lengthAdjust="spacingAndGlyphs" stroke="#231F20" stroke-width="0.22">40</text>
<path d="M284.90 206.34H287.6" stroke="#231F20" stroke-width="1.0"/>
<text x="281.40" y="208.64" font-size="6.4" text-anchor="end" fill="#231F20" font-weight="normal" textLength="6.45" lengthAdjust="spacingAndGlyphs" stroke="#231F20" stroke-width="0.22">20</text>
<path d="M284.90 219.40H287.6" stroke="#231F20" stroke-width="1.0"/>
<text x="281.40" y="221.70" font-size="6.4" text-anchor="end" fill="#231F20" font-weight="normal" textLength="3.23" lengthAdjust="spacingAndGlyphs" stroke="#231F20" stroke-width="0.22">0</text>
<path d="M304.05 219.4V222.10" stroke="#231F20" stroke-width="1.0"/>
<text x="304.05" y="229.70" font-size="6.0" text-anchor="middle" fill="#231F20" font-weight="normal" textLength="13.80" lengthAdjust="spacingAndGlyphs" stroke="#231F20" stroke-width="0.22">Young</text>
<text x="304.05" y="235.50" font-size="6.0" text-anchor="middle" fill="#231F20" font-weight="normal" textLength="7.66" lengthAdjust="spacingAndGlyphs" stroke="#231F20" stroke-width="0.22">WT</text>
<path d="M320.45 219.4V222.10" stroke="#231F20" stroke-width="1.0"/>
<text x="320.45" y="229.70" font-size="6.0" text-anchor="middle" fill="#231F20" font-weight="normal" textLength="7.67" lengthAdjust="spacingAndGlyphs" stroke="#231F20" stroke-width="0.22">Old</text>
<text x="320.45" y="235.50" font-size="6.0" text-anchor="middle" fill="#231F20" font-weight="normal" textLength="7.66" lengthAdjust="spacingAndGlyphs" stroke="#231F20" stroke-width="0.22">WT</text>
<path d="M337.05 219.4V222.10" stroke="#231F20" stroke-width="1.0"/>
<text x="337.05" y="229.70" font-size="6.0" text-anchor="middle" fill="#231F20" font-weight="normal" textLength="7.67" lengthAdjust="spacingAndGlyphs" stroke="#231F20" stroke-width="0.22">Old</text>
<text x="334.95" y="235.50" font-size="6.0" text-anchor="middle" fill="#231F20" font-weight="normal" textLength="9.58" lengthAdjust="spacingAndGlyphs" stroke="#231F20" stroke-width="0.22">TNF</text>
<text x="339.84" y="232.50" font-size="2.8" text-anchor="start" fill="#231F20" font-weight="normal" stroke="#231F20" stroke-width="0.1">&#8722;/&#8722;</text>
<path d="M303.8 162.30V159.8H320.6V167.50" stroke="#3a3f47" stroke-width="0.95" fill="none"/>
<text x="312.20" y="160.70" font-size="6.5" text-anchor="middle" fill="#3a3f47" font-weight="normal" stroke="#3a3f47" stroke-width="0.15">*</text>
<path d="M320.6 185.40V172.1H336.7V174.40" stroke="#3a3f47" stroke-width="0.95" fill="none"/>
<text x="328.65" y="173.00" font-size="6.5" text-anchor="middle" fill="#3a3f47" font-weight="normal" stroke="#3a3f47" stroke-width="0.15">*</text>
<text x="320.00" y="248.70" font-size="6.9" text-anchor="middle" fill="#231F20" font-weight="normal" textLength="44.09" lengthAdjust="spacingAndGlyphs" stroke="#231F20" stroke-width="0.22">Group <tspan font-style="italic">P</tspan> &lt; .0001</text>
<g transform="translate(255.00,185.35) rotate(-90)">
<text x="0" y="2.4" font-size="6.6" text-anchor="middle" fill="#231F20" stroke="#231F20" stroke-width="0.25" textLength="28.00" lengthAdjust="spacingAndGlyphs">CD8<tspan font-size="4" dy="-2">+</tspan><tspan dy="2"></tspan> naive</text>
</g>
<g transform="translate(265.10,185.35) rotate(-90)">
<text x="0" y="2.4" font-size="6.6" text-anchor="middle" fill="#231F20" stroke="#231F20" stroke-width="0.25" textLength="40.00" lengthAdjust="spacingAndGlyphs">(%CD8<tspan font-size="4" dy="-2">+</tspan><tspan dy="2"></tspan> T cells)</text>
</g>
<rect x="426.3" y="182.0" width="12.50" height="37.40" fill="#F2910A"/>
<rect x="426.3" y="209.5" width="12.50" height="9.90" fill="#25A6E1"/>
<rect x="442.5" y="215.0" width="12.50" height="4.40" fill="#F2910A"/>
<rect x="442.5" y="217.5" width="12.50" height="1.90" fill="#25A6E1"/>
<rect x="458.8" y="209.0" width="12.50" height="10.40" fill="#F2910A"/>
<rect x="458.8" y="216.0" width="12.50" height="3.40" fill="#25A6E1"/>
<path d="M432.55 182.00V171.00M429.25 171.00H435.85" stroke="#231F20" stroke-width="1.3" fill="none"/>
<path d="M432.55 209.50V201.30M429.25 201.30H435.85" stroke="#231F20" stroke-width="1.3" fill="none"/>
<text x="432.55" y="188.30" font-size="4.2" text-anchor="middle" fill="#fff" font-weight="normal" opacity="0.7">a,b</text>
<text x="432.55" y="214.30" font-size="4.2" text-anchor="middle" fill="#fff" font-weight="normal" opacity="0.7">c</text>
<path d="M448.75 215.00V212.50M445.45 212.50H452.05" stroke="#231F20" stroke-width="1.3" fill="none"/>
<text x="448.75" y="206.30" font-size="4.2" text-anchor="middle" fill="#666" font-weight="normal" opacity="0.7">a</text>
<path d="M465.05 209.00V203.80M461.75 203.80H468.35" stroke="#231F20" stroke-width="1.3" fill="none"/>
<path d="M465.05 216.00V212.30M461.75 212.30H468.35" stroke="#231F20" stroke-width="1.3" fill="none"/>
<text x="465.05" y="202.60" font-size="4.2" text-anchor="middle" fill="#666" font-weight="normal" opacity="0.7">b</text>
<path d="M415.8 151.30V219.4H482.0" stroke="#1a1a1a" stroke-width="1.25" fill="none"/>
<path d="M413.10 154.10H415.8" stroke="#231F20" stroke-width="1.0"/>
<text x="409.60" y="156.40" font-size="6.4" text-anchor="end" fill="#231F20" font-weight="normal" textLength="6.45" lengthAdjust="spacingAndGlyphs" stroke="#231F20" stroke-width="0.22">50</text>
<path d="M413.10 167.16H415.8" stroke="#231F20" stroke-width="1.0"/>
<text x="409.60" y="169.46" font-size="6.4" text-anchor="end" fill="#231F20" font-weight="normal" textLength="6.45" lengthAdjust="spacingAndGlyphs" stroke="#231F20" stroke-width="0.22">40</text>
<path d="M413.10 180.22H415.8" stroke="#231F20" stroke-width="1.0"/>
<text x="409.60" y="182.52" font-size="6.4" text-anchor="end" fill="#231F20" font-weight="normal" textLength="6.45" lengthAdjust="spacingAndGlyphs" stroke="#231F20" stroke-width="0.22">30</text>
<path d="M413.10 193.28H415.8" stroke="#231F20" stroke-width="1.0"/>
<text x="409.60" y="195.58" font-size="6.4" text-anchor="end" fill="#231F20" font-weight="normal" textLength="6.45" lengthAdjust="spacingAndGlyphs" stroke="#231F20" stroke-width="0.22">20</text>
<path d="M413.10 206.34H415.8" stroke="#231F20" stroke-width="1.0"/>
<text x="409.60" y="208.64" font-size="6.4" text-anchor="end" fill="#231F20" font-weight="normal" textLength="6.45" lengthAdjust="spacingAndGlyphs" stroke="#231F20" stroke-width="0.22">10</text>
<path d="M413.10 219.40H415.8" stroke="#231F20" stroke-width="1.0"/>
<text x="409.60" y="221.70" font-size="6.4" text-anchor="end" fill="#231F20" font-weight="normal" textLength="3.23" lengthAdjust="spacingAndGlyphs" stroke="#231F20" stroke-width="0.22">0</text>
<path d="M432.55 219.4V222.10" stroke="#231F20" stroke-width="1.0"/>
<text x="432.55" y="229.70" font-size="6.0" text-anchor="middle" fill="#231F20" font-weight="normal" textLength="13.80" lengthAdjust="spacingAndGlyphs" stroke="#231F20" stroke-width="0.22">Young</text>
<text x="432.55" y="235.50" font-size="6.0" text-anchor="middle" fill="#231F20" font-weight="normal" textLength="7.66" lengthAdjust="spacingAndGlyphs" stroke="#231F20" stroke-width="0.22">WT</text>
<path d="M448.75 219.4V222.10" stroke="#231F20" stroke-width="1.0"/>
<text x="448.75" y="229.70" font-size="6.0" text-anchor="middle" fill="#231F20" font-weight="normal" textLength="7.67" lengthAdjust="spacingAndGlyphs" stroke="#231F20" stroke-width="0.22">Old</text>
<text x="448.75" y="235.50" font-size="6.0" text-anchor="middle" fill="#231F20" font-weight="normal" textLength="7.66" lengthAdjust="spacingAndGlyphs" stroke="#231F20" stroke-width="0.22">WT</text>
<path d="M465.05 219.4V222.10" stroke="#231F20" stroke-width="1.0"/>
<text x="465.05" y="229.70" font-size="6.0" text-anchor="middle" fill="#231F20" font-weight="normal" textLength="7.67" lengthAdjust="spacingAndGlyphs" stroke="#231F20" stroke-width="0.22">Old</text>
<text x="462.95" y="235.50" font-size="6.0" text-anchor="middle" fill="#231F20" font-weight="normal" textLength="9.58" lengthAdjust="spacingAndGlyphs" stroke="#231F20" stroke-width="0.22">TNF</text>
<text x="467.84" y="232.50" font-size="2.8" text-anchor="start" fill="#231F20" font-weight="normal" stroke="#231F20" stroke-width="0.1">&#8722;/&#8722;</text>
<path d="M432.0 168.00V165.2H450.2V168.00" stroke="#3a3f47" stroke-width="0.95" fill="none"/>
<text x="441.10" y="166.10" font-size="6.5" text-anchor="middle" fill="#3a3f47" font-weight="normal" stroke="#3a3f47" stroke-width="0.15">****</text>
<path d="M431.7 159.30V156.5H465.6V159.30" stroke="#3a3f47" stroke-width="0.95" fill="none"/>
<text x="448.65" y="157.40" font-size="6.5" text-anchor="middle" fill="#3a3f47" font-weight="normal" stroke="#3a3f47" stroke-width="0.15">****</text>
<text x="450.00" y="248.70" font-size="6.9" text-anchor="middle" fill="#231F20" font-weight="normal" textLength="87.95" lengthAdjust="spacingAndGlyphs" stroke="#231F20" stroke-width="0.22">Int. <tspan font-style="italic">P</tspan> = .0009 | Group <tspan font-style="italic">P</tspan> &lt; .0001 |</text>
<text x="450.00" y="255.60" font-size="6.9" text-anchor="middle" fill="#231F20" font-weight="normal" textLength="42.09" lengthAdjust="spacingAndGlyphs" stroke="#231F20" stroke-width="0.22">Allele <tspan font-style="italic">P</tspan> = .0003</text>
<g transform="translate(397.40,185.35) rotate(-90)">
<text x="0" y="2.4" font-size="6.6" text-anchor="middle" fill="#231F20" stroke="#231F20" stroke-width="0.25" textLength="54.00" lengthAdjust="spacingAndGlyphs">CD8<tspan font-size="4" dy="-2">+</tspan><tspan dy="2"></tspan> naive (cells/µl)</text>
</g>
<rect x="54.4" y="304.3" width="12.70" height="44.20" fill="#F2910A"/>
<rect x="54.4" y="324.0" width="12.70" height="24.50" fill="#25A6E1"/>
<rect x="70.8" y="320.5" width="12.50" height="28.00" fill="#F2910A"/>
<rect x="70.8" y="334.5" width="12.50" height="14.00" fill="#25A6E1"/>
<rect x="87.3" y="317.0" width="12.60" height="31.50" fill="#F2910A"/>
<rect x="87.3" y="331.8" width="12.60" height="16.70" fill="#25A6E1"/>
<path d="M60.75 304.30V302.50M57.45 302.50H64.05" stroke="#231F20" stroke-width="1.3" fill="none"/>
<path d="M60.75 324.00V318.80M57.45 318.80H64.05" stroke="#231F20" stroke-width="1.3" fill="none"/>
<text x="60.75" y="310.30" font-size="4.2" text-anchor="middle" fill="#fff" font-weight="normal" opacity="0.7">a,b</text>
<text x="60.75" y="330.30" font-size="4.2" text-anchor="middle" fill="#fff" font-weight="normal" opacity="0.7">a,d</text>
<path d="M77.05 320.50V318.00M73.75 318.00H80.35" stroke="#231F20" stroke-width="1.3" fill="none"/>
<path d="M77.05 334.50V331.30M73.75 331.30H80.35" stroke="#231F20" stroke-width="1.3" fill="none"/>
<text x="77.05" y="325.80" font-size="4.2" text-anchor="middle" fill="#fff" font-weight="normal" opacity="0.7">a</text>
<text x="77.05" y="339.80" font-size="4.2" text-anchor="middle" fill="#fff" font-weight="normal" opacity="0.7">c</text>
<path d="M93.60 317.00V314.50M90.30 314.50H96.90" stroke="#231F20" stroke-width="1.3" fill="none"/>
<path d="M93.60 331.80V328.80M90.30 328.80H96.90" stroke="#231F20" stroke-width="1.3" fill="none"/>
<text x="93.60" y="323.30" font-size="4.2" text-anchor="middle" fill="#fff" font-weight="normal" opacity="0.7">b</text>
<text x="93.60" y="337.80" font-size="4.2" text-anchor="middle" fill="#fff" font-weight="normal" opacity="0.7">d</text>
<path d="M44.5 280.40V348.5H110.2" stroke="#1a1a1a" stroke-width="1.25" fill="none"/>
<path d="M41.80 283.20H44.5" stroke="#231F20" stroke-width="1.0"/>
<text x="38.30" y="285.50" font-size="6.4" text-anchor="end" fill="#231F20" font-weight="normal" textLength="6.45" lengthAdjust="spacingAndGlyphs" stroke="#231F20" stroke-width="0.22">80</text>
<path d="M41.80 299.52H44.5" stroke="#231F20" stroke-width="1.0"/>
<text x="38.30" y="301.82" font-size="6.4" text-anchor="end" fill="#231F20" font-weight="normal" textLength="6.45" lengthAdjust="spacingAndGlyphs" stroke="#231F20" stroke-width="0.22">60</text>
<path d="M41.80 315.85H44.5" stroke="#231F20" stroke-width="1.0"/>
<text x="38.30" y="318.15" font-size="6.4" text-anchor="end" fill="#231F20" font-weight="normal" textLength="6.45" lengthAdjust="spacingAndGlyphs" stroke="#231F20" stroke-width="0.22">40</text>
<path d="M41.80 332.18H44.5" stroke="#231F20" stroke-width="1.0"/>
<text x="38.30" y="334.48" font-size="6.4" text-anchor="end" fill="#231F20" font-weight="normal" textLength="6.45" lengthAdjust="spacingAndGlyphs" stroke="#231F20" stroke-width="0.22">20</text>
<path d="M41.80 348.50H44.5" stroke="#231F20" stroke-width="1.0"/>
<text x="38.30" y="350.80" font-size="6.4" text-anchor="end" fill="#231F20" font-weight="normal" textLength="3.23" lengthAdjust="spacingAndGlyphs" stroke="#231F20" stroke-width="0.22">0</text>
<path d="M60.75 348.5V351.20" stroke="#231F20" stroke-width="1.0"/>
<text x="60.75" y="359.00" font-size="6.0" text-anchor="middle" fill="#231F20" font-weight="normal" textLength="13.80" lengthAdjust="spacingAndGlyphs" stroke="#231F20" stroke-width="0.22">Young</text>
<text x="60.75" y="364.80" font-size="6.0" text-anchor="middle" fill="#231F20" font-weight="normal" textLength="7.66" lengthAdjust="spacingAndGlyphs" stroke="#231F20" stroke-width="0.22">WT</text>
<path d="M77.05 348.5V351.20" stroke="#231F20" stroke-width="1.0"/>
<text x="77.05" y="359.00" font-size="6.0" text-anchor="middle" fill="#231F20" font-weight="normal" textLength="7.67" lengthAdjust="spacingAndGlyphs" stroke="#231F20" stroke-width="0.22">Old</text>
<text x="77.05" y="364.80" font-size="6.0" text-anchor="middle" fill="#231F20" font-weight="normal" textLength="7.66" lengthAdjust="spacingAndGlyphs" stroke="#231F20" stroke-width="0.22">WT</text>
<path d="M93.60 348.5V351.20" stroke="#231F20" stroke-width="1.0"/>
<text x="93.60" y="359.00" font-size="6.0" text-anchor="middle" fill="#231F20" font-weight="normal" textLength="7.67" lengthAdjust="spacingAndGlyphs" stroke="#231F20" stroke-width="0.22">Old</text>
<text x="91.50" y="364.80" font-size="6.0" text-anchor="middle" fill="#231F20" font-weight="normal" textLength="9.58" lengthAdjust="spacingAndGlyphs" stroke="#231F20" stroke-width="0.22">TNF</text>
<text x="96.39" y="361.80" font-size="2.8" text-anchor="start" fill="#231F20" font-weight="normal" stroke="#231F20" stroke-width="0.1">&#8722;/&#8722;</text>
<path d="M60.2 299.70V296.9H76.2V299.70" stroke="#3a3f47" stroke-width="0.95" fill="none"/>
<text x="68.20" y="297.80" font-size="6.5" text-anchor="middle" fill="#3a3f47" font-weight="normal" stroke="#3a3f47" stroke-width="0.15">****</text>
<path d="M60.2 290.70V287.9H93.6V290.70" stroke="#3a3f47" stroke-width="0.95" fill="none"/>
<text x="76.90" y="288.80" font-size="6.5" text-anchor="middle" fill="#3a3f47" font-weight="normal" stroke="#3a3f47" stroke-width="0.15">****</text>
<text x="65.00" y="378.20" font-size="6.9" text-anchor="middle" fill="#231F20" font-weight="normal" textLength="81.28" lengthAdjust="spacingAndGlyphs" stroke="#231F20" stroke-width="0.22">Int. <tspan font-style="italic">P</tspan> = .02 | Group <tspan font-style="italic">P</tspan> &lt; .0001 |</text>
<text x="65.00" y="385.00" font-size="6.9" text-anchor="middle" fill="#231F20" font-weight="normal" textLength="42.09" lengthAdjust="spacingAndGlyphs" stroke="#231F20" stroke-width="0.22">Allele <tspan font-style="italic">P</tspan> = .0006</text>
<g transform="translate(15.60,314.45) rotate(-90)">
<text x="0" y="2.4" font-size="6.6" text-anchor="middle" fill="#231F20" stroke="#231F20" stroke-width="0.25" textLength="28.50" lengthAdjust="spacingAndGlyphs">CD4<tspan font-size="4" dy="-2">+</tspan><tspan dy="2"></tspan> naive</text>
</g>
<g transform="translate(23.30,314.45) rotate(-90)">
<text x="0" y="2.4" font-size="6.6" text-anchor="middle" fill="#231F20" stroke="#231F20" stroke-width="0.25" textLength="43.50" lengthAdjust="spacingAndGlyphs">(% CD4<tspan font-size="4" dy="-2">+</tspan><tspan dy="2"></tspan> T cells)</text>
</g>
<text x="12.30" y="362.10" font-size="6.5" text-anchor="start" fill="#231F20" font-weight="normal" textLength="25.79" lengthAdjust="spacingAndGlyphs" stroke="#231F20" stroke-width="0.22">Recipient:</text>
<rect x="168.9" y="307.0" width="12.60" height="41.50" fill="#F2910A"/>
<rect x="168.9" y="338.3" width="12.60" height="10.20" fill="#25A6E1"/>
<rect x="185.3" y="338.3" width="12.50" height="10.20" fill="#F2910A"/>
<rect x="185.3" y="345.0" width="12.50" height="3.50" fill="#25A6E1"/>
<rect x="201.9" y="331.3" width="12.50" height="17.20" fill="#F2910A"/>
<rect x="201.9" y="343.8" width="12.50" height="4.70" fill="#25A6E1"/>
<path d="M175.20 307.00V296.30M171.90 296.30H178.50" stroke="#231F20" stroke-width="1.3" fill="none"/>
<path d="M175.20 338.30V331.80M171.90 331.80H178.50" stroke="#231F20" stroke-width="1.3" fill="none"/>
<text x="175.20" y="314.30" font-size="4.2" text-anchor="middle" fill="#fff" font-weight="normal" opacity="0.7">a,b</text>
<text x="175.20" y="343.30" font-size="4.2" text-anchor="middle" fill="#fff" font-weight="normal" opacity="0.7">c</text>
<path d="M191.55 338.30V333.30M188.25 333.30H194.85" stroke="#231F20" stroke-width="1.3" fill="none"/>
<path d="M191.55 345.00V344.50M188.25 344.50H194.85" stroke="#231F20" stroke-width="1.3" fill="none"/>
<text x="191.55" y="342.30" font-size="4.2" text-anchor="middle" fill="#fff" font-weight="normal" opacity="0.7">a</text>
<path d="M208.15 331.30V325.00M204.85 325.00H211.45" stroke="#231F20" stroke-width="1.3" fill="none"/>
<path d="M208.15 343.80V338.30M204.85 338.30H211.45" stroke="#231F20" stroke-width="1.3" fill="none"/>
<text x="208.15" y="335.30" font-size="4.2" text-anchor="middle" fill="#fff" font-weight="normal" opacity="0.7">b</text>
<path d="M158.8 280.40V348.5H225.0" stroke="#1a1a1a" stroke-width="1.25" fill="none"/>
<path d="M156.10 283.20H158.8" stroke="#231F20" stroke-width="1.0"/>
<text x="152.60" y="285.50" font-size="6.4" text-anchor="end" fill="#231F20" font-weight="normal" textLength="6.45" lengthAdjust="spacingAndGlyphs" stroke="#231F20" stroke-width="0.22">60</text>
<path d="M156.10 304.97H158.8" stroke="#231F20" stroke-width="1.0"/>
<text x="152.60" y="307.27" font-size="6.4" text-anchor="end" fill="#231F20" font-weight="normal" textLength="6.45" lengthAdjust="spacingAndGlyphs" stroke="#231F20" stroke-width="0.22">40</text>
<path d="M156.10 326.73H158.8" stroke="#231F20" stroke-width="1.0"/>
<text x="152.60" y="329.03" font-size="6.4" text-anchor="end" fill="#231F20" font-weight="normal" textLength="6.45" lengthAdjust="spacingAndGlyphs" stroke="#231F20" stroke-width="0.22">20</text>
<path d="M156.10 348.50H158.8" stroke="#231F20" stroke-width="1.0"/>
<text x="152.60" y="350.80" font-size="6.4" text-anchor="end" fill="#231F20" font-weight="normal" textLength="3.23" lengthAdjust="spacingAndGlyphs" stroke="#231F20" stroke-width="0.22">0</text>
<path d="M175.20 348.5V351.20" stroke="#231F20" stroke-width="1.0"/>
<text x="175.20" y="359.00" font-size="6.0" text-anchor="middle" fill="#231F20" font-weight="normal" textLength="13.80" lengthAdjust="spacingAndGlyphs" stroke="#231F20" stroke-width="0.22">Young</text>
<text x="175.20" y="364.80" font-size="6.0" text-anchor="middle" fill="#231F20" font-weight="normal" textLength="7.66" lengthAdjust="spacingAndGlyphs" stroke="#231F20" stroke-width="0.22">WT</text>
<path d="M191.55 348.5V351.20" stroke="#231F20" stroke-width="1.0"/>
<text x="191.55" y="359.00" font-size="6.0" text-anchor="middle" fill="#231F20" font-weight="normal" textLength="7.67" lengthAdjust="spacingAndGlyphs" stroke="#231F20" stroke-width="0.22">Old</text>
<text x="191.55" y="364.80" font-size="6.0" text-anchor="middle" fill="#231F20" font-weight="normal" textLength="7.66" lengthAdjust="spacingAndGlyphs" stroke="#231F20" stroke-width="0.22">WT</text>
<path d="M208.15 348.5V351.20" stroke="#231F20" stroke-width="1.0"/>
<text x="208.15" y="359.00" font-size="6.0" text-anchor="middle" fill="#231F20" font-weight="normal" textLength="7.67" lengthAdjust="spacingAndGlyphs" stroke="#231F20" stroke-width="0.22">Old</text>
<text x="206.05" y="364.80" font-size="6.0" text-anchor="middle" fill="#231F20" font-weight="normal" textLength="9.58" lengthAdjust="spacingAndGlyphs" stroke="#231F20" stroke-width="0.22">TNF</text>
<text x="210.94" y="361.80" font-size="2.8" text-anchor="start" fill="#231F20" font-weight="normal" stroke="#231F20" stroke-width="0.1">&#8722;/&#8722;</text>
<path d="M174.5 295.30V292.5H190.5V295.30" stroke="#3a3f47" stroke-width="0.95" fill="none"/>
<text x="182.50" y="293.40" font-size="6.5" text-anchor="middle" fill="#3a3f47" font-weight="normal" stroke="#3a3f47" stroke-width="0.15">****</text>
<path d="M174.5 286.60V283.8H208.3V286.60" stroke="#3a3f47" stroke-width="0.95" fill="none"/>
<text x="191.40" y="284.70" font-size="6.5" text-anchor="middle" fill="#3a3f47" font-weight="normal" stroke="#3a3f47" stroke-width="0.15">****</text>
<text x="191.30" y="378.20" font-size="6.9" text-anchor="middle" fill="#231F20" font-weight="normal" textLength="84.62" lengthAdjust="spacingAndGlyphs" stroke="#231F20" stroke-width="0.22">Int. <tspan font-style="italic">P</tspan> = .001 | Group <tspan font-style="italic">P</tspan> &lt; .0001 |</text>
<text x="191.30" y="385.00" font-size="6.9" text-anchor="middle" fill="#231F20" font-weight="normal" textLength="42.09" lengthAdjust="spacingAndGlyphs" stroke="#231F20" stroke-width="0.22">Allele <tspan font-style="italic">P</tspan> &lt; .0001</text>
<g transform="translate(138.80,314.45) rotate(-90)">
<text x="0" y="2.4" font-size="6.6" text-anchor="middle" fill="#231F20" stroke="#231F20" stroke-width="0.25" textLength="54.00" lengthAdjust="spacingAndGlyphs">CD4<tspan font-size="4" dy="-2">+</tspan><tspan dy="2"></tspan> naive (cells/µl)</text>
</g>
<rect x="297.8" y="312.5" width="12.50" height="36.00" fill="#F2910A"/>
<rect x="297.8" y="335.5" width="12.50" height="13.00" fill="#25A6E1"/>
<rect x="314.2" y="342.0" width="12.50" height="6.50" fill="#F2910A"/>
<rect x="314.2" y="344.5" width="12.50" height="4.00" fill="#25A6E1"/>
<rect x="330.8" y="337.0" width="12.50" height="11.50" fill="#F2910A"/>
<rect x="330.8" y="342.9" width="12.50" height="5.60" fill="#25A6E1"/>
<path d="M304.05 312.50V302.80M300.75 302.80H307.35" stroke="#231F20" stroke-width="1.3" fill="none"/>
<path d="M304.05 335.50V323.80M300.75 323.80H307.35" stroke="#231F20" stroke-width="1.3" fill="none"/>
<text x="304.05" y="317.80" font-size="4.2" text-anchor="middle" fill="#fff" font-weight="normal" opacity="0.7">a,b</text>
<text x="304.05" y="340.80" font-size="4.2" text-anchor="middle" fill="#fff" font-weight="normal" opacity="0.7">c</text>
<path d="M320.45 342.00V339.20M317.15 339.20H323.75" stroke="#231F20" stroke-width="1.3" fill="none"/>
<path d="M320.45 344.50V342.50M317.15 342.50H323.75" stroke="#231F20" stroke-width="1.3" fill="none"/>
<text x="320.45" y="337.60" font-size="4.2" text-anchor="middle" fill="#666" font-weight="normal" opacity="0.7">a</text>
<path d="M337.05 337.00V334.00M333.75 334.00H340.35" stroke="#231F20" stroke-width="1.3" fill="none"/>
<path d="M337.05 342.90V338.30M333.75 338.30H340.35" stroke="#231F20" stroke-width="1.3" fill="none"/>
<text x="337.05" y="331.50" font-size="4.2" text-anchor="middle" fill="#666" font-weight="normal" opacity="0.7">b</text>
<path d="M287.6 280.40V348.5H353.0" stroke="#1a1a1a" stroke-width="1.25" fill="none"/>
<path d="M284.90 283.20H287.6" stroke="#231F20" stroke-width="1.0"/>
<text x="281.40" y="285.50" font-size="6.4" text-anchor="end" fill="#231F20" font-weight="normal" textLength="3.23" lengthAdjust="spacingAndGlyphs" stroke="#231F20" stroke-width="0.22">4</text>
<path d="M284.90 299.52H287.6" stroke="#231F20" stroke-width="1.0"/>
<text x="281.40" y="301.82" font-size="6.4" text-anchor="end" fill="#231F20" font-weight="normal" textLength="3.23" lengthAdjust="spacingAndGlyphs" stroke="#231F20" stroke-width="0.22">3</text>
<path d="M284.90 315.85H287.6" stroke="#231F20" stroke-width="1.0"/>
<text x="281.40" y="318.15" font-size="6.4" text-anchor="end" fill="#231F20" font-weight="normal" textLength="3.23" lengthAdjust="spacingAndGlyphs" stroke="#231F20" stroke-width="0.22">2</text>
<path d="M284.90 332.18H287.6" stroke="#231F20" stroke-width="1.0"/>
<text x="281.40" y="334.48" font-size="6.4" text-anchor="end" fill="#231F20" font-weight="normal" textLength="3.23" lengthAdjust="spacingAndGlyphs" stroke="#231F20" stroke-width="0.22">1</text>
<path d="M284.90 348.50H287.6" stroke="#231F20" stroke-width="1.0"/>
<text x="281.40" y="350.80" font-size="6.4" text-anchor="end" fill="#231F20" font-weight="normal" textLength="3.23" lengthAdjust="spacingAndGlyphs" stroke="#231F20" stroke-width="0.22">0</text>
<path d="M304.05 348.5V351.20" stroke="#231F20" stroke-width="1.0"/>
<text x="304.05" y="359.00" font-size="6.0" text-anchor="middle" fill="#231F20" font-weight="normal" textLength="13.80" lengthAdjust="spacingAndGlyphs" stroke="#231F20" stroke-width="0.22">Young</text>
<text x="304.05" y="364.80" font-size="6.0" text-anchor="middle" fill="#231F20" font-weight="normal" textLength="7.66" lengthAdjust="spacingAndGlyphs" stroke="#231F20" stroke-width="0.22">WT</text>
<path d="M320.45 348.5V351.20" stroke="#231F20" stroke-width="1.0"/>
<text x="320.45" y="359.00" font-size="6.0" text-anchor="middle" fill="#231F20" font-weight="normal" textLength="7.67" lengthAdjust="spacingAndGlyphs" stroke="#231F20" stroke-width="0.22">Old</text>
<text x="320.45" y="364.80" font-size="6.0" text-anchor="middle" fill="#231F20" font-weight="normal" textLength="7.66" lengthAdjust="spacingAndGlyphs" stroke="#231F20" stroke-width="0.22">WT</text>
<path d="M337.05 348.5V351.20" stroke="#231F20" stroke-width="1.0"/>
<text x="337.05" y="359.00" font-size="6.0" text-anchor="middle" fill="#231F20" font-weight="normal" textLength="7.67" lengthAdjust="spacingAndGlyphs" stroke="#231F20" stroke-width="0.22">Old</text>
<text x="334.95" y="364.80" font-size="6.0" text-anchor="middle" fill="#231F20" font-weight="normal" textLength="9.58" lengthAdjust="spacingAndGlyphs" stroke="#231F20" stroke-width="0.22">TNF</text>
<text x="339.84" y="361.80" font-size="2.8" text-anchor="start" fill="#231F20" font-weight="normal" stroke="#231F20" stroke-width="0.1">&#8722;/&#8722;</text>
<path d="M303.8 299.80V297.0H320.5V299.80" stroke="#3a3f47" stroke-width="0.95" fill="none"/>
<text x="312.15" y="297.90" font-size="6.5" text-anchor="middle" fill="#3a3f47" font-weight="normal" stroke="#3a3f47" stroke-width="0.15">****</text>
<path d="M303.8 291.10V288.3H336.8V291.10" stroke="#3a3f47" stroke-width="0.95" fill="none"/>
<text x="320.30" y="289.20" font-size="6.5" text-anchor="middle" fill="#3a3f47" font-weight="normal" stroke="#3a3f47" stroke-width="0.15">****</text>
<text x="320.00" y="378.20" font-size="6.9" text-anchor="middle" fill="#231F20" font-weight="normal" textLength="44.09" lengthAdjust="spacingAndGlyphs" stroke="#231F20" stroke-width="0.22">Group <tspan font-style="italic">P</tspan> &lt; .0001</text>
<g transform="translate(261.50,314.45) rotate(-90)">
<text x="0" y="2.4" font-size="6.6" text-anchor="middle" fill="#231F20" stroke="#231F20" stroke-width="0.25" textLength="33.00" lengthAdjust="spacingAndGlyphs">CD8<tspan font-size="4" dy="-2">+</tspan><tspan dy="2"></tspan> CD183<tspan font-size="4" dy="-2">+</tspan><tspan dy="2"></tspan></text>
</g>
<g transform="translate(270.00,314.45) rotate(-90)">
<text x="0" y="2.4" font-size="6.6" text-anchor="middle" fill="#231F20" stroke="#231F20" stroke-width="0.25" textLength="57.00" lengthAdjust="spacingAndGlyphs">naive T cells (cells/µl)</text>
</g>
<rect x="426.3" y="334.5" width="12.50" height="14.00" fill="#F2910A"/>
<rect x="426.3" y="341.3" width="12.50" height="7.20" fill="#25A6E1"/>
<rect x="442.5" y="320.0" width="12.50" height="28.50" fill="#F2910A"/>
<rect x="442.5" y="337.5" width="12.50" height="11.00" fill="#25A6E1"/>
<rect x="458.8" y="322.0" width="12.50" height="26.50" fill="#F2910A"/>
<rect x="458.8" y="342.0" width="12.50" height="6.50" fill="#25A6E1"/>
<path d="M432.55 334.50V330.50M429.25 330.50H435.85" stroke="#231F20" stroke-width="1.3" fill="none"/>
<path d="M432.55 341.30V338.00M429.25 338.00H435.85" stroke="#231F20" stroke-width="1.3" fill="none"/>
<text x="432.55" y="338.30" font-size="4.2" text-anchor="middle" fill="#fff" font-weight="normal" opacity="0.7">a,b</text>
<path d="M448.75 320.00V313.80M445.45 313.80H452.05" stroke="#231F20" stroke-width="1.3" fill="none"/>
<path d="M448.75 337.50V329.50M445.45 329.50H452.05" stroke="#231F20" stroke-width="1.3" fill="none"/>
<text x="448.75" y="324.80" font-size="4.2" text-anchor="middle" fill="#fff" font-weight="normal" opacity="0.7">a</text>
<path d="M465.05 322.00V312.00M461.75 312.00H468.35" stroke="#231F20" stroke-width="1.3" fill="none"/>
<path d="M465.05 342.00V340.00M461.75 340.00H468.35" stroke="#231F20" stroke-width="1.3" fill="none"/>
<text x="465.05" y="328.30" font-size="4.2" text-anchor="middle" fill="#fff" font-weight="normal" opacity="0.7">b</text>
<path d="M415.8 280.40V348.5H482.0" stroke="#1a1a1a" stroke-width="1.25" fill="none"/>
<path d="M413.10 283.20H415.8" stroke="#231F20" stroke-width="1.0"/>
<text x="409.60" y="285.50" font-size="6.4" text-anchor="end" fill="#231F20" font-weight="normal" textLength="6.45" lengthAdjust="spacingAndGlyphs" stroke="#231F20" stroke-width="0.22">80</text>
<path d="M413.10 299.52H415.8" stroke="#231F20" stroke-width="1.0"/>
<text x="409.60" y="301.82" font-size="6.4" text-anchor="end" fill="#231F20" font-weight="normal" textLength="6.45" lengthAdjust="spacingAndGlyphs" stroke="#231F20" stroke-width="0.22">60</text>
<path d="M413.10 315.85H415.8" stroke="#231F20" stroke-width="1.0"/>
<text x="409.60" y="318.15" font-size="6.4" text-anchor="end" fill="#231F20" font-weight="normal" textLength="6.45" lengthAdjust="spacingAndGlyphs" stroke="#231F20" stroke-width="0.22">40</text>
<path d="M413.10 332.18H415.8" stroke="#231F20" stroke-width="1.0"/>
<text x="409.60" y="334.48" font-size="6.4" text-anchor="end" fill="#231F20" font-weight="normal" textLength="6.45" lengthAdjust="spacingAndGlyphs" stroke="#231F20" stroke-width="0.22">20</text>
<path d="M413.10 348.50H415.8" stroke="#231F20" stroke-width="1.0"/>
<text x="409.60" y="350.80" font-size="6.4" text-anchor="end" fill="#231F20" font-weight="normal" textLength="3.23" lengthAdjust="spacingAndGlyphs" stroke="#231F20" stroke-width="0.22">0</text>
<path d="M432.55 348.5V351.20" stroke="#231F20" stroke-width="1.0"/>
<text x="432.55" y="359.00" font-size="6.0" text-anchor="middle" fill="#231F20" font-weight="normal" textLength="13.80" lengthAdjust="spacingAndGlyphs" stroke="#231F20" stroke-width="0.22">Young</text>
<text x="432.55" y="364.80" font-size="6.0" text-anchor="middle" fill="#231F20" font-weight="normal" textLength="7.66" lengthAdjust="spacingAndGlyphs" stroke="#231F20" stroke-width="0.22">WT</text>
<path d="M448.75 348.5V351.20" stroke="#231F20" stroke-width="1.0"/>
<text x="448.75" y="359.00" font-size="6.0" text-anchor="middle" fill="#231F20" font-weight="normal" textLength="7.67" lengthAdjust="spacingAndGlyphs" stroke="#231F20" stroke-width="0.22">Old</text>
<text x="448.75" y="364.80" font-size="6.0" text-anchor="middle" fill="#231F20" font-weight="normal" textLength="7.66" lengthAdjust="spacingAndGlyphs" stroke="#231F20" stroke-width="0.22">WT</text>
<path d="M465.05 348.5V351.20" stroke="#231F20" stroke-width="1.0"/>
<text x="465.05" y="359.00" font-size="6.0" text-anchor="middle" fill="#231F20" font-weight="normal" textLength="7.67" lengthAdjust="spacingAndGlyphs" stroke="#231F20" stroke-width="0.22">Old</text>
<text x="462.95" y="364.80" font-size="6.0" text-anchor="middle" fill="#231F20" font-weight="normal" textLength="9.58" lengthAdjust="spacingAndGlyphs" stroke="#231F20" stroke-width="0.22">TNF</text>
<text x="467.84" y="361.80" font-size="2.8" text-anchor="start" fill="#231F20" font-weight="normal" stroke="#231F20" stroke-width="0.1">&#8722;/&#8722;</text>
<path d="M432.0 309.10V306.3H449.3V309.10" stroke="#3a3f47" stroke-width="0.95" fill="none"/>
<text x="440.65" y="307.20" font-size="6.5" text-anchor="middle" fill="#3a3f47" font-weight="normal" stroke="#3a3f47" stroke-width="0.15">**</text>
<path d="M432.0 299.80V297.0H465.5V299.80" stroke="#3a3f47" stroke-width="0.95" fill="none"/>
<text x="448.75" y="297.90" font-size="6.5" text-anchor="middle" fill="#3a3f47" font-weight="normal" stroke="#3a3f47" stroke-width="0.15">*</text>
<text x="450.00" y="378.20" font-size="6.9" text-anchor="middle" fill="#231F20" font-weight="normal" textLength="77.94" lengthAdjust="spacingAndGlyphs" stroke="#231F20" stroke-width="0.22">Int. <tspan font-style="italic">P</tspan> = .01 | Group <tspan font-style="italic">P</tspan> = .007 |</text>
<text x="450.00" y="385.00" font-size="6.9" text-anchor="middle" fill="#231F20" font-weight="normal" textLength="38.75" lengthAdjust="spacingAndGlyphs" stroke="#231F20" stroke-width="0.22">Allele <tspan font-style="italic">P</tspan> = .004</text>
<g transform="translate(398.40,314.45) rotate(-90)">
<text x="0" y="2.4" font-size="6.6" text-anchor="middle" fill="#231F20" stroke="#231F20" stroke-width="0.25" textLength="67.00" lengthAdjust="spacingAndGlyphs">CD8<tspan font-size="4" dy="-2">+</tspan><tspan dy="2"></tspan> T<tspan font-size="4" dy="1.5">EM</tspan><tspan dy="-1.5"> (%</tspan>CD8<tspan font-size="4" dy="-2">+</tspan><tspan dy="2"></tspan> T cells)</text>
</g>
<rect x="54.4" y="435.9" width="12.70" height="40.40" fill="#F2910A"/>
<rect x="54.4" y="455.6" width="12.70" height="20.70" fill="#25A6E1"/>
<rect x="70.8" y="430.8" width="12.50" height="45.50" fill="#F2910A"/>
<rect x="70.8" y="453.3" width="12.50" height="23.00" fill="#25A6E1"/>
<rect x="87.3" y="436.8" width="12.60" height="39.50" fill="#F2910A"/>
<rect x="87.3" y="455.0" width="12.60" height="21.30" fill="#25A6E1"/>
<path d="M60.75 435.90V433.80M57.45 433.80H64.05" stroke="#231F20" stroke-width="1.3" fill="none"/>
<path d="M60.75 455.60V453.00M57.45 453.00H64.05" stroke="#231F20" stroke-width="1.3" fill="none"/>
<path d="M77.05 430.80V426.30M73.75 426.30H80.35" stroke="#231F20" stroke-width="1.3" fill="none"/>
<path d="M77.05 453.30V450.00M73.75 450.00H80.35" stroke="#231F20" stroke-width="1.3" fill="none"/>
<path d="M93.60 436.80V432.50M90.30 432.50H96.90" stroke="#231F20" stroke-width="1.3" fill="none"/>
<path d="M93.60 455.00V452.50M90.30 452.50H96.90" stroke="#231F20" stroke-width="1.3" fill="none"/>
<path d="M44.5 408.10V476.3H110.2" stroke="#1a1a1a" stroke-width="1.25" fill="none"/>
<path d="M41.80 410.90H44.5" stroke="#231F20" stroke-width="1.0"/>
<text x="38.30" y="413.20" font-size="6.4" text-anchor="end" fill="#231F20" font-weight="normal" textLength="9.68" lengthAdjust="spacingAndGlyphs" stroke="#231F20" stroke-width="0.22">150</text>
<path d="M41.80 432.70H44.5" stroke="#231F20" stroke-width="1.0"/>
<text x="38.30" y="435.00" font-size="6.4" text-anchor="end" fill="#231F20" font-weight="normal" textLength="9.68" lengthAdjust="spacingAndGlyphs" stroke="#231F20" stroke-width="0.22">100</text>
<path d="M41.80 454.50H44.5" stroke="#231F20" stroke-width="1.0"/>
<text x="38.30" y="456.80" font-size="6.4" text-anchor="end" fill="#231F20" font-weight="normal" textLength="6.45" lengthAdjust="spacingAndGlyphs" stroke="#231F20" stroke-width="0.22">50</text>
<path d="M41.80 476.30H44.5" stroke="#231F20" stroke-width="1.0"/>
<text x="38.30" y="478.60" font-size="6.4" text-anchor="end" fill="#231F20" font-weight="normal" textLength="3.23" lengthAdjust="spacingAndGlyphs" stroke="#231F20" stroke-width="0.22">0</text>
<path d="M60.75 476.3V479.00" stroke="#231F20" stroke-width="1.0"/>
<text x="60.75" y="487.10" font-size="6.0" text-anchor="middle" fill="#231F20" font-weight="normal" textLength="13.80" lengthAdjust="spacingAndGlyphs" stroke="#231F20" stroke-width="0.22">Young</text>
<text x="60.75" y="492.90" font-size="6.0" text-anchor="middle" fill="#231F20" font-weight="normal" textLength="7.66" lengthAdjust="spacingAndGlyphs" stroke="#231F20" stroke-width="0.22">WT</text>
<path d="M77.05 476.3V479.00" stroke="#231F20" stroke-width="1.0"/>
<text x="77.05" y="487.10" font-size="6.0" text-anchor="middle" fill="#231F20" font-weight="normal" textLength="7.67" lengthAdjust="spacingAndGlyphs" stroke="#231F20" stroke-width="0.22">Old</text>
<text x="77.05" y="492.90" font-size="6.0" text-anchor="middle" fill="#231F20" font-weight="normal" textLength="7.66" lengthAdjust="spacingAndGlyphs" stroke="#231F20" stroke-width="0.22">WT</text>
<path d="M93.60 476.3V479.00" stroke="#231F20" stroke-width="1.0"/>
<text x="93.60" y="487.10" font-size="6.0" text-anchor="middle" fill="#231F20" font-weight="normal" textLength="7.67" lengthAdjust="spacingAndGlyphs" stroke="#231F20" stroke-width="0.22">Old</text>
<text x="91.50" y="492.90" font-size="6.0" text-anchor="middle" fill="#231F20" font-weight="normal" textLength="9.58" lengthAdjust="spacingAndGlyphs" stroke="#231F20" stroke-width="0.22">TNF</text>
<text x="96.39" y="489.90" font-size="2.8" text-anchor="start" fill="#231F20" font-weight="normal" stroke="#231F20" stroke-width="0.1">&#8722;/&#8722;</text>
<path d="M76.3 424.10V421.3H93.0V424.10" stroke="#3a3f47" stroke-width="0.95" fill="none"/>
<text x="84.65" y="422.20" font-size="6.5" text-anchor="middle" fill="#3a3f47" font-weight="normal" stroke="#3a3f47" stroke-width="0.15">*</text>
<text x="76.30" y="505.00" font-size="6.9" text-anchor="middle" fill="#231F20" font-weight="normal" textLength="37.41" lengthAdjust="spacingAndGlyphs" stroke="#231F20" stroke-width="0.22">Group <tspan font-style="italic">P</tspan> = .02</text>
<g transform="translate(22.40,442.20) rotate(-90)">
<text x="0" y="2.4" font-size="6.6" text-anchor="middle" fill="#231F20" stroke="#231F20" stroke-width="0.25" textLength="68.50" lengthAdjust="spacingAndGlyphs">CD8<tspan font-size="4" dy="-2">+</tspan><tspan dy="2"></tspan> T<tspan font-size="4" dy="1.5">CM</tspan><tspan dy="-1.5"> (%</tspan>CD8<tspan font-size="4" dy="-2">+</tspan><tspan dy="2"></tspan> T cells)</text>
</g>
<text x="12.30" y="490.20" font-size="6.5" text-anchor="start" fill="#231F20" font-weight="normal" textLength="25.79" lengthAdjust="spacingAndGlyphs" stroke="#231F20" stroke-width="0.22">Recipient:</text>
<rect x="168.9" y="442.5" width="12.60" height="33.80" fill="#F2910A"/>
<rect x="168.9" y="459.5" width="12.60" height="16.80" fill="#25A6E1"/>
<rect x="185.3" y="433.0" width="12.50" height="43.30" fill="#F2910A"/>
<rect x="185.3" y="453.8" width="12.50" height="22.50" fill="#25A6E1"/>
<rect x="201.9" y="441.3" width="12.50" height="35.00" fill="#F2910A"/>
<rect x="201.9" y="457.0" width="12.50" height="19.30" fill="#25A6E1"/>
<path d="M175.20 442.50V440.50M171.90 440.50H178.50" stroke="#231F20" stroke-width="1.3" fill="none"/>
<path d="M175.20 459.50V457.50M171.90 457.50H178.50" stroke="#231F20" stroke-width="1.3" fill="none"/>
<text x="175.20" y="449.30" font-size="4.2" text-anchor="middle" fill="#fff" font-weight="normal" opacity="0.7">a</text>
<text x="175.20" y="467.30" font-size="4.2" text-anchor="middle" fill="#fff" font-weight="normal" opacity="0.7">d</text>
<path d="M191.55 433.00V430.00M188.25 430.00H194.85" stroke="#231F20" stroke-width="1.3" fill="none"/>
<path d="M191.55 453.80V451.30M188.25 451.30H194.85" stroke="#231F20" stroke-width="1.3" fill="none"/>
<text x="191.55" y="439.80" font-size="4.2" text-anchor="middle" fill="#fff" font-weight="normal" opacity="0.7">a,b</text>
<text x="191.55" y="462.30" font-size="4.2" text-anchor="middle" fill="#fff" font-weight="normal" opacity="0.7">c,d</text>
<path d="M208.15 441.30V437.50M204.85 437.50H211.45" stroke="#231F20" stroke-width="1.3" fill="none"/>
<path d="M208.15 457.00V455.60M204.85 455.60H211.45" stroke="#231F20" stroke-width="1.3" fill="none"/>
<text x="208.15" y="447.80" font-size="4.2" text-anchor="middle" fill="#fff" font-weight="normal" opacity="0.7">b</text>
<text x="208.15" y="464.80" font-size="4.2" text-anchor="middle" fill="#fff" font-weight="normal" opacity="0.7">c</text>
<path d="M158.8 408.10V476.3H225.0" stroke="#1a1a1a" stroke-width="1.25" fill="none"/>
<path d="M156.10 410.90H158.8" stroke="#231F20" stroke-width="1.0"/>
<text x="152.60" y="413.20" font-size="6.4" text-anchor="end" fill="#231F20" font-weight="normal" textLength="9.68" lengthAdjust="spacingAndGlyphs" stroke="#231F20" stroke-width="0.22">200</text>
<path d="M156.10 427.25H158.8" stroke="#231F20" stroke-width="1.0"/>
<text x="152.60" y="429.55" font-size="6.4" text-anchor="end" fill="#231F20" font-weight="normal" textLength="9.68" lengthAdjust="spacingAndGlyphs" stroke="#231F20" stroke-width="0.22">150</text>
<path d="M156.10 443.60H158.8" stroke="#231F20" stroke-width="1.0"/>
<text x="152.60" y="445.90" font-size="6.4" text-anchor="end" fill="#231F20" font-weight="normal" textLength="9.68" lengthAdjust="spacingAndGlyphs" stroke="#231F20" stroke-width="0.22">100</text>
<path d="M156.10 459.95H158.8" stroke="#231F20" stroke-width="1.0"/>
<text x="152.60" y="462.25" font-size="6.4" text-anchor="end" fill="#231F20" font-weight="normal" textLength="6.45" lengthAdjust="spacingAndGlyphs" stroke="#231F20" stroke-width="0.22">50</text>
<path d="M156.10 476.30H158.8" stroke="#231F20" stroke-width="1.0"/>
<text x="152.60" y="478.60" font-size="6.4" text-anchor="end" fill="#231F20" font-weight="normal" textLength="3.23" lengthAdjust="spacingAndGlyphs" stroke="#231F20" stroke-width="0.22">0</text>
<path d="M175.20 476.3V479.00" stroke="#231F20" stroke-width="1.0"/>
<text x="175.20" y="487.10" font-size="6.0" text-anchor="middle" fill="#231F20" font-weight="normal" textLength="13.80" lengthAdjust="spacingAndGlyphs" stroke="#231F20" stroke-width="0.22">Young</text>
<text x="175.20" y="492.90" font-size="6.0" text-anchor="middle" fill="#231F20" font-weight="normal" textLength="7.66" lengthAdjust="spacingAndGlyphs" stroke="#231F20" stroke-width="0.22">WT</text>
<path d="M191.55 476.3V479.00" stroke="#231F20" stroke-width="1.0"/>
<text x="191.55" y="487.10" font-size="6.0" text-anchor="middle" fill="#231F20" font-weight="normal" textLength="7.67" lengthAdjust="spacingAndGlyphs" stroke="#231F20" stroke-width="0.22">Old</text>
<text x="191.55" y="492.90" font-size="6.0" text-anchor="middle" fill="#231F20" font-weight="normal" textLength="7.66" lengthAdjust="spacingAndGlyphs" stroke="#231F20" stroke-width="0.22">WT</text>
<path d="M208.15 476.3V479.00" stroke="#231F20" stroke-width="1.0"/>
<text x="208.15" y="487.10" font-size="6.0" text-anchor="middle" fill="#231F20" font-weight="normal" textLength="7.67" lengthAdjust="spacingAndGlyphs" stroke="#231F20" stroke-width="0.22">Old</text>
<text x="206.05" y="492.90" font-size="6.0" text-anchor="middle" fill="#231F20" font-weight="normal" textLength="9.58" lengthAdjust="spacingAndGlyphs" stroke="#231F20" stroke-width="0.22">TNF</text>
<text x="210.94" y="489.90" font-size="2.8" text-anchor="start" fill="#231F20" font-weight="normal" stroke="#231F20" stroke-width="0.1">&#8722;/&#8722;</text>
<path d="M173.7 427.50V424.8H190.6V427.50" stroke="#3a3f47" stroke-width="0.95" fill="none"/>
<text x="182.15" y="425.70" font-size="6.5" text-anchor="middle" fill="#3a3f47" font-weight="normal" stroke="#3a3f47" stroke-width="0.15">****</text>
<path d="M192.5 426.80V424.8H209.4V429.20" stroke="#3a3f47" stroke-width="0.95" fill="none"/>
<text x="200.95" y="425.70" font-size="6.5" text-anchor="middle" fill="#3a3f47" font-weight="normal" stroke="#3a3f47" stroke-width="0.15">****</text>
<text x="191.30" y="505.00" font-size="6.9" text-anchor="middle" fill="#231F20" font-weight="normal" textLength="87.40" lengthAdjust="spacingAndGlyphs" stroke="#231F20" stroke-width="0.22">Group <tspan font-style="italic">P</tspan> &lt; .0001 | Allele <tspan font-style="italic">P</tspan> = .005</text>
<g transform="translate(136.70,442.20) rotate(-90)">
<text x="0" y="2.4" font-size="6.6" text-anchor="middle" fill="#231F20" stroke="#231F20" stroke-width="0.25" textLength="68.00" lengthAdjust="spacingAndGlyphs">CD8<tspan font-size="4" dy="-2">+</tspan><tspan dy="2"></tspan> T<tspan font-size="4" dy="1.5">EM</tspan><tspan dy="-1.5"> (%</tspan>CD8<tspan font-size="4" dy="-2">+</tspan><tspan dy="2"></tspan> T cells)</text>
</g>
<rect x="297.8" y="454.3" width="12.50" height="22.00" fill="#F2910A"/>
<rect x="297.8" y="463.8" width="12.50" height="12.50" fill="#25A6E1"/>
<rect x="314.2" y="439.0" width="12.50" height="37.30" fill="#F2910A"/>
<rect x="314.2" y="455.0" width="12.50" height="21.30" fill="#25A6E1"/>
<rect x="330.8" y="449.5" width="12.50" height="26.80" fill="#F2910A"/>
<rect x="330.8" y="461.3" width="12.50" height="15.00" fill="#25A6E1"/>
<path d="M304.05 454.30V452.00M300.75 452.00H307.35" stroke="#231F20" stroke-width="1.3" fill="none"/>
<path d="M304.05 463.80V462.50M300.75 462.50H307.35" stroke="#231F20" stroke-width="1.3" fill="none"/>
<text x="304.05" y="459.80" font-size="4.2" text-anchor="middle" fill="#fff" font-weight="normal" opacity="0.7">a</text>
<text x="304.05" y="469.80" font-size="4.2" text-anchor="middle" fill="#fff" font-weight="normal" opacity="0.7">c,d</text>
<path d="M320.45 439.00V436.30M317.15 436.30H323.75" stroke="#231F20" stroke-width="1.3" fill="none"/>
<path d="M320.45 455.00V452.00M317.15 452.00H323.75" stroke="#231F20" stroke-width="1.3" fill="none"/>
<text x="320.45" y="444.80" font-size="4.2" text-anchor="middle" fill="#fff" font-weight="normal" opacity="0.7">a,b</text>
<text x="320.45" y="461.80" font-size="4.2" text-anchor="middle" fill="#fff" font-weight="normal" opacity="0.7">c,d</text>
<path d="M337.05 449.50V447.00M333.75 447.00H340.35" stroke="#231F20" stroke-width="1.3" fill="none"/>
<path d="M337.05 461.30V458.80M333.75 458.80H340.35" stroke="#231F20" stroke-width="1.3" fill="none"/>
<text x="337.05" y="455.30" font-size="4.2" text-anchor="middle" fill="#fff" font-weight="normal" opacity="0.7">b</text>
<text x="337.05" y="467.80" font-size="4.2" text-anchor="middle" fill="#fff" font-weight="normal" opacity="0.7">c</text>
<path d="M287.6 408.10V476.3H353.0" stroke="#1a1a1a" stroke-width="1.25" fill="none"/>
<path d="M284.90 410.90H287.6" stroke="#231F20" stroke-width="1.0"/>
<text x="281.40" y="413.20" font-size="6.4" text-anchor="end" fill="#231F20" font-weight="normal" textLength="9.68" lengthAdjust="spacingAndGlyphs" stroke="#231F20" stroke-width="0.22">150</text>
<path d="M284.90 432.70H287.6" stroke="#231F20" stroke-width="1.0"/>
<text x="281.40" y="435.00" font-size="6.4" text-anchor="end" fill="#231F20" font-weight="normal" textLength="9.68" lengthAdjust="spacingAndGlyphs" stroke="#231F20" stroke-width="0.22">100</text>
<path d="M284.90 454.50H287.6" stroke="#231F20" stroke-width="1.0"/>
<text x="281.40" y="456.80" font-size="6.4" text-anchor="end" fill="#231F20" font-weight="normal" textLength="6.45" lengthAdjust="spacingAndGlyphs" stroke="#231F20" stroke-width="0.22">50</text>
<path d="M284.90 476.30H287.6" stroke="#231F20" stroke-width="1.0"/>
<text x="281.40" y="478.60" font-size="6.4" text-anchor="end" fill="#231F20" font-weight="normal" textLength="3.23" lengthAdjust="spacingAndGlyphs" stroke="#231F20" stroke-width="0.22">0</text>
<path d="M304.05 476.3V479.00" stroke="#231F20" stroke-width="1.0"/>
<text x="304.05" y="487.10" font-size="6.0" text-anchor="middle" fill="#231F20" font-weight="normal" textLength="13.80" lengthAdjust="spacingAndGlyphs" stroke="#231F20" stroke-width="0.22">Young</text>
<text x="304.05" y="492.90" font-size="6.0" text-anchor="middle" fill="#231F20" font-weight="normal" textLength="7.66" lengthAdjust="spacingAndGlyphs" stroke="#231F20" stroke-width="0.22">WT</text>
<path d="M320.45 476.3V479.00" stroke="#231F20" stroke-width="1.0"/>
<text x="320.45" y="487.10" font-size="6.0" text-anchor="middle" fill="#231F20" font-weight="normal" textLength="7.67" lengthAdjust="spacingAndGlyphs" stroke="#231F20" stroke-width="0.22">Old</text>
<text x="320.45" y="492.90" font-size="6.0" text-anchor="middle" fill="#231F20" font-weight="normal" textLength="7.66" lengthAdjust="spacingAndGlyphs" stroke="#231F20" stroke-width="0.22">WT</text>
<path d="M337.05 476.3V479.00" stroke="#231F20" stroke-width="1.0"/>
<text x="337.05" y="487.10" font-size="6.0" text-anchor="middle" fill="#231F20" font-weight="normal" textLength="7.67" lengthAdjust="spacingAndGlyphs" stroke="#231F20" stroke-width="0.22">Old</text>
<text x="334.95" y="492.90" font-size="6.0" text-anchor="middle" fill="#231F20" font-weight="normal" textLength="9.58" lengthAdjust="spacingAndGlyphs" stroke="#231F20" stroke-width="0.22">TNF</text>
<text x="339.84" y="489.90" font-size="2.8" text-anchor="start" fill="#231F20" font-weight="normal" stroke="#231F20" stroke-width="0.1">&#8722;/&#8722;</text>
<path d="M300.0 418.60V415.8H340.5V418.60" stroke="#3a3f47" stroke-width="0.95" fill="none"/>
<text x="320.25" y="416.70" font-size="6.5" text-anchor="middle" fill="#3a3f47" font-weight="normal" stroke="#3a3f47" stroke-width="0.15">**</text>
<path d="M303.0 430.30V427.5H320.0V430.30" stroke="#3a3f47" stroke-width="0.95" fill="none"/>
<text x="311.50" y="428.40" font-size="6.5" text-anchor="middle" fill="#3a3f47" font-weight="normal" stroke="#3a3f47" stroke-width="0.15">****</text>
<path d="M321.3 434.60V431.8H337.7V434.60" stroke="#3a3f47" stroke-width="0.95" fill="none"/>
<text x="329.50" y="432.70" font-size="6.5" text-anchor="middle" fill="#3a3f47" font-weight="normal" stroke="#3a3f47" stroke-width="0.15">****</text>
<text x="321.30" y="505.00" font-size="6.9" text-anchor="middle" fill="#231F20" font-weight="normal" textLength="81.28" lengthAdjust="spacingAndGlyphs" stroke="#231F20" stroke-width="0.22">Int. <tspan font-style="italic">P</tspan> = .01 | Group <tspan font-style="italic">P</tspan> &lt; .0001 |</text>
<text x="321.30" y="511.90" font-size="6.9" text-anchor="middle" fill="#231F20" font-weight="normal" textLength="42.09" lengthAdjust="spacingAndGlyphs" stroke="#231F20" stroke-width="0.22">Allele <tspan font-style="italic">P</tspan> &lt; .0001</text>
<g transform="translate(268.50,442.20) rotate(-90)">
<text x="0" y="2.4" font-size="6.6" text-anchor="middle" fill="#231F20" stroke="#231F20" stroke-width="0.25" textLength="66.00" lengthAdjust="spacingAndGlyphs">CD4<tspan font-size="4" dy="-2">+</tspan><tspan dy="2"></tspan> T<tspan font-size="4" dy="1.5">EM</tspan><tspan dy="-1.5"> (%</tspan>CD4<tspan font-size="4" dy="-2">+</tspan><tspan dy="2"></tspan> T cells)</text>
</g>
<rect x="54.4" y="590.0" width="12.70" height="15.50" fill="#F2910A"/>
<rect x="54.4" y="598.8" width="12.70" height="6.70" fill="#25A6E1"/>
<rect x="70.8" y="568.5" width="12.50" height="37.00" fill="#F2910A"/>
<rect x="70.8" y="588.1" width="12.50" height="17.40" fill="#25A6E1"/>
<rect x="87.3" y="566.5" width="12.60" height="39.00" fill="#F2910A"/>
<rect x="87.3" y="588.1" width="12.60" height="17.40" fill="#25A6E1"/>
<path d="M60.75 590.00V586.90M57.45 586.90H64.05" stroke="#231F20" stroke-width="1.3" fill="none"/>
<path d="M60.75 598.80V595.60M57.45 595.60H64.05" stroke="#231F20" stroke-width="1.3" fill="none"/>
<text x="60.75" y="593.80" font-size="4.2" text-anchor="middle" fill="#fff" font-weight="normal" opacity="0.7">a,b</text>
<text x="60.75" y="603.30" font-size="4.2" text-anchor="middle" fill="#fff" font-weight="normal" opacity="0.7">c,d</text>
<path d="M77.05 568.50V564.30M73.75 564.30H80.35" stroke="#231F20" stroke-width="1.3" fill="none"/>
<path d="M77.05 588.10V582.50M73.75 582.50H80.35" stroke="#231F20" stroke-width="1.3" fill="none"/>
<text x="77.05" y="574.80" font-size="4.2" text-anchor="middle" fill="#fff" font-weight="normal" opacity="0.7">a</text>
<text x="77.05" y="595.30" font-size="4.2" text-anchor="middle" fill="#fff" font-weight="normal" opacity="0.7">c</text>
<path d="M93.60 566.50V561.50M90.30 561.50H96.90" stroke="#231F20" stroke-width="1.3" fill="none"/>
<path d="M93.60 588.10V581.50M90.30 581.50H96.90" stroke="#231F20" stroke-width="1.3" fill="none"/>
<text x="93.60" y="572.80" font-size="4.2" text-anchor="middle" fill="#fff" font-weight="normal" opacity="0.7">b</text>
<text x="93.60" y="595.30" font-size="4.2" text-anchor="middle" fill="#fff" font-weight="normal" opacity="0.7">d</text>
<path d="M44.5 537.30V605.5H110.2" stroke="#1a1a1a" stroke-width="1.25" fill="none"/>
<path d="M41.80 540.10H44.5" stroke="#231F20" stroke-width="1.0"/>
<text x="38.30" y="542.40" font-size="6.4" text-anchor="end" fill="#231F20" font-weight="normal" textLength="9.68" lengthAdjust="spacingAndGlyphs" stroke="#231F20" stroke-width="0.22">100</text>
<path d="M41.80 553.18H44.5" stroke="#231F20" stroke-width="1.0"/>
<text x="38.30" y="555.48" font-size="6.4" text-anchor="end" fill="#231F20" font-weight="normal" textLength="6.45" lengthAdjust="spacingAndGlyphs" stroke="#231F20" stroke-width="0.22">80</text>
<path d="M41.80 566.26H44.5" stroke="#231F20" stroke-width="1.0"/>
<text x="38.30" y="568.56" font-size="6.4" text-anchor="end" fill="#231F20" font-weight="normal" textLength="6.45" lengthAdjust="spacingAndGlyphs" stroke="#231F20" stroke-width="0.22">60</text>
<path d="M41.80 579.34H44.5" stroke="#231F20" stroke-width="1.0"/>
<text x="38.30" y="581.64" font-size="6.4" text-anchor="end" fill="#231F20" font-weight="normal" textLength="6.45" lengthAdjust="spacingAndGlyphs" stroke="#231F20" stroke-width="0.22">40</text>
<path d="M41.80 592.42H44.5" stroke="#231F20" stroke-width="1.0"/>
<text x="38.30" y="594.72" font-size="6.4" text-anchor="end" fill="#231F20" font-weight="normal" textLength="6.45" lengthAdjust="spacingAndGlyphs" stroke="#231F20" stroke-width="0.22">20</text>
<path d="M41.80 605.50H44.5" stroke="#231F20" stroke-width="1.0"/>
<text x="38.30" y="607.80" font-size="6.4" text-anchor="end" fill="#231F20" font-weight="normal" textLength="3.23" lengthAdjust="spacingAndGlyphs" stroke="#231F20" stroke-width="0.22">0</text>
<path d="M60.75 605.5V608.20" stroke="#231F20" stroke-width="1.0"/>
<text x="60.75" y="616.10" font-size="6.0" text-anchor="middle" fill="#231F20" font-weight="normal" textLength="13.80" lengthAdjust="spacingAndGlyphs" stroke="#231F20" stroke-width="0.22">Young</text>
<text x="60.75" y="621.90" font-size="6.0" text-anchor="middle" fill="#231F20" font-weight="normal" textLength="7.66" lengthAdjust="spacingAndGlyphs" stroke="#231F20" stroke-width="0.22">WT</text>
<path d="M77.05 605.5V608.20" stroke="#231F20" stroke-width="1.0"/>
<text x="77.05" y="616.10" font-size="6.0" text-anchor="middle" fill="#231F20" font-weight="normal" textLength="7.67" lengthAdjust="spacingAndGlyphs" stroke="#231F20" stroke-width="0.22">Old</text>
<text x="77.05" y="621.90" font-size="6.0" text-anchor="middle" fill="#231F20" font-weight="normal" textLength="7.66" lengthAdjust="spacingAndGlyphs" stroke="#231F20" stroke-width="0.22">WT</text>
<path d="M93.60 605.5V608.20" stroke="#231F20" stroke-width="1.0"/>
<text x="93.60" y="616.10" font-size="6.0" text-anchor="middle" fill="#231F20" font-weight="normal" textLength="7.67" lengthAdjust="spacingAndGlyphs" stroke="#231F20" stroke-width="0.22">Old</text>
<text x="91.50" y="621.90" font-size="6.0" text-anchor="middle" fill="#231F20" font-weight="normal" textLength="9.58" lengthAdjust="spacingAndGlyphs" stroke="#231F20" stroke-width="0.22">TNF</text>
<text x="96.39" y="618.90" font-size="2.8" text-anchor="start" fill="#231F20" font-weight="normal" stroke="#231F20" stroke-width="0.1">&#8722;/&#8722;</text>
<path d="M60.4 558.60V555.8H77.3V558.60" stroke="#3a3f47" stroke-width="0.95" fill="none"/>
<text x="68.85" y="556.70" font-size="6.5" text-anchor="middle" fill="#3a3f47" font-weight="normal" stroke="#3a3f47" stroke-width="0.15">****</text>
<path d="M60.4 549.60V546.8H93.6V549.60" stroke="#3a3f47" stroke-width="0.95" fill="none"/>
<text x="77.00" y="547.70" font-size="6.5" text-anchor="middle" fill="#3a3f47" font-weight="normal" stroke="#3a3f47" stroke-width="0.15">****</text>
<text x="77.50" y="635.40" font-size="6.9" text-anchor="middle" fill="#231F20" font-weight="normal" textLength="44.09" lengthAdjust="spacingAndGlyphs" stroke="#231F20" stroke-width="0.22">Group <tspan font-style="italic">P</tspan> &lt; .0001</text>
<g transform="translate(21.80,571.40) rotate(-90)">
<text x="0" y="2.4" font-size="6.6" text-anchor="middle" fill="#231F20" stroke="#231F20" stroke-width="0.25" textLength="66.00" lengthAdjust="spacingAndGlyphs">CD4<tspan font-size="4" dy="-2">+</tspan><tspan dy="2"></tspan> T<tspan font-size="4" dy="1.5">EM</tspan><tspan dy="-1.5"> (%</tspan>CD4<tspan font-size="4" dy="-2">+</tspan><tspan dy="2"></tspan> T cells)</text>
</g>
<text x="12.30" y="619.20" font-size="6.5" text-anchor="start" fill="#231F20" font-weight="normal" textLength="25.79" lengthAdjust="spacingAndGlyphs" stroke="#231F20" stroke-width="0.22">Recipient:</text>
<rect x="168.9" y="554.0" width="12.60" height="51.50" fill="#F2910A"/>
<rect x="168.9" y="581.6" width="12.60" height="23.90" fill="#25A6E1"/>
<rect x="185.3" y="559.8" width="12.50" height="45.70" fill="#F2910A"/>
<rect x="185.3" y="582.6" width="12.50" height="22.90" fill="#25A6E1"/>
<rect x="201.9" y="564.8" width="12.50" height="40.70" fill="#F2910A"/>
<rect x="201.9" y="585.6" width="12.50" height="19.90" fill="#25A6E1"/>
<path d="M175.20 554.00V551.80M171.90 551.80H178.50" stroke="#231F20" stroke-width="1.3" fill="none"/>
<path d="M175.20 581.60V578.50M171.90 578.50H178.50" stroke="#231F20" stroke-width="1.3" fill="none"/>
<text x="175.20" y="559.30" font-size="4.2" text-anchor="middle" fill="#fff" font-weight="normal" opacity="0.7">a,b</text>
<text x="175.20" y="586.30" font-size="4.2" text-anchor="middle" fill="#fff" font-weight="normal" opacity="0.7">a</text>
<path d="M191.55 559.80V556.50M188.25 556.50H194.85" stroke="#231F20" stroke-width="1.3" fill="none"/>
<path d="M191.55 582.60V578.50M188.25 578.50H194.85" stroke="#231F20" stroke-width="1.3" fill="none"/>
<text x="191.55" y="566.30" font-size="4.2" text-anchor="middle" fill="#fff" font-weight="normal" opacity="0.7">a</text>
<path d="M208.15 564.80V561.00M204.85 561.00H211.45" stroke="#231F20" stroke-width="1.3" fill="none"/>
<path d="M208.15 585.60V581.00M204.85 581.00H211.45" stroke="#231F20" stroke-width="1.3" fill="none"/>
<text x="208.15" y="571.30" font-size="4.2" text-anchor="middle" fill="#fff" font-weight="normal" opacity="0.7">b</text>
<text x="208.15" y="590.30" font-size="4.2" text-anchor="middle" fill="#fff" font-weight="normal" opacity="0.7">a</text>
<path d="M158.8 537.30V605.5H225.0" stroke="#1a1a1a" stroke-width="1.25" fill="none"/>
<path d="M156.10 540.10H158.8" stroke="#231F20" stroke-width="1.0"/>
<text x="152.60" y="542.40" font-size="6.4" text-anchor="end" fill="#231F20" font-weight="normal" textLength="9.68" lengthAdjust="spacingAndGlyphs" stroke="#231F20" stroke-width="0.22">150</text>
<path d="M156.10 561.90H158.8" stroke="#231F20" stroke-width="1.0"/>
<text x="152.60" y="564.20" font-size="6.4" text-anchor="end" fill="#231F20" font-weight="normal" textLength="9.68" lengthAdjust="spacingAndGlyphs" stroke="#231F20" stroke-width="0.22">100</text>
<path d="M156.10 583.70H158.8" stroke="#231F20" stroke-width="1.0"/>
<text x="152.60" y="586.00" font-size="6.4" text-anchor="end" fill="#231F20" font-weight="normal" textLength="6.45" lengthAdjust="spacingAndGlyphs" stroke="#231F20" stroke-width="0.22">50</text>
<path d="M156.10 605.50H158.8" stroke="#231F20" stroke-width="1.0"/>
<text x="152.60" y="607.80" font-size="6.4" text-anchor="end" fill="#231F20" font-weight="normal" textLength="3.23" lengthAdjust="spacingAndGlyphs" stroke="#231F20" stroke-width="0.22">0</text>
<path d="M175.20 605.5V608.20" stroke="#231F20" stroke-width="1.0"/>
<text x="175.20" y="616.10" font-size="6.0" text-anchor="middle" fill="#231F20" font-weight="normal" textLength="13.80" lengthAdjust="spacingAndGlyphs" stroke="#231F20" stroke-width="0.22">Young</text>
<text x="175.20" y="621.90" font-size="6.0" text-anchor="middle" fill="#231F20" font-weight="normal" textLength="7.66" lengthAdjust="spacingAndGlyphs" stroke="#231F20" stroke-width="0.22">WT</text>
<path d="M191.55 605.5V608.20" stroke="#231F20" stroke-width="1.0"/>
<text x="191.55" y="616.10" font-size="6.0" text-anchor="middle" fill="#231F20" font-weight="normal" textLength="7.67" lengthAdjust="spacingAndGlyphs" stroke="#231F20" stroke-width="0.22">Old</text>
<text x="191.55" y="621.90" font-size="6.0" text-anchor="middle" fill="#231F20" font-weight="normal" textLength="7.66" lengthAdjust="spacingAndGlyphs" stroke="#231F20" stroke-width="0.22">WT</text>
<path d="M208.15 605.5V608.20" stroke="#231F20" stroke-width="1.0"/>
<text x="208.15" y="616.10" font-size="6.0" text-anchor="middle" fill="#231F20" font-weight="normal" textLength="7.67" lengthAdjust="spacingAndGlyphs" stroke="#231F20" stroke-width="0.22">Old</text>
<text x="206.05" y="621.90" font-size="6.0" text-anchor="middle" fill="#231F20" font-weight="normal" textLength="9.58" lengthAdjust="spacingAndGlyphs" stroke="#231F20" stroke-width="0.22">TNF</text>
<text x="210.94" y="618.90" font-size="2.8" text-anchor="start" fill="#231F20" font-weight="normal" stroke="#231F20" stroke-width="0.1">&#8722;/&#8722;</text>
<path d="M175.0 550.10V547.3H190.8V550.10" stroke="#3a3f47" stroke-width="0.95" fill="none"/>
<text x="182.90" y="548.20" font-size="6.5" text-anchor="middle" fill="#3a3f47" font-weight="normal" stroke="#3a3f47" stroke-width="0.15">*</text>
<path d="M175.0 543.30V540.5H208.3V543.30" stroke="#3a3f47" stroke-width="0.95" fill="none"/>
<text x="191.65" y="541.40" font-size="6.5" text-anchor="middle" fill="#3a3f47" font-weight="normal" stroke="#3a3f47" stroke-width="0.15">****</text>
<text x="191.30" y="635.40" font-size="6.9" text-anchor="middle" fill="#231F20" font-weight="normal" textLength="44.09" lengthAdjust="spacingAndGlyphs" stroke="#231F20" stroke-width="0.22">Group <tspan font-style="italic">P</tspan> &lt; .0001</text>
<g transform="translate(137.20,571.40) rotate(-90)">
<text x="0" y="2.4" font-size="6.6" text-anchor="middle" fill="#231F20" stroke="#231F20" stroke-width="0.25" textLength="66.00" lengthAdjust="spacingAndGlyphs">CD4<tspan font-size="4" dy="-2">+</tspan><tspan dy="2"></tspan> T<tspan font-size="4" dy="1.5">CM</tspan><tspan dy="-1.5"> (%</tspan>CD4<tspan font-size="4" dy="-2">+</tspan><tspan dy="2"></tspan> T cells)</text>
</g>
<rect x="297.8" y="588.0" width="12.50" height="17.50" fill="#F2910A"/>
<rect x="297.8" y="601.5" width="12.50" height="4.00" fill="#25A6E1"/>
<rect x="314.2" y="570.5" width="12.50" height="35.00" fill="#F2910A"/>
<rect x="314.2" y="593.5" width="12.50" height="12.00" fill="#25A6E1"/>
<rect x="330.8" y="588.0" width="12.50" height="17.50" fill="#F2910A"/>
<rect x="330.8" y="599.8" width="12.50" height="5.70" fill="#25A6E1"/>
<path d="M304.05 588.00V582.80M300.75 582.80H307.35" stroke="#231F20" stroke-width="1.3" fill="none"/>
<path d="M304.05 601.50V598.50M300.75 598.50H307.35" stroke="#231F20" stroke-width="1.3" fill="none"/>
<text x="304.05" y="592.80" font-size="4.2" text-anchor="middle" fill="#fff" font-weight="normal" opacity="0.7">a</text>
<path d="M320.45 570.50V563.00M317.15 563.00H323.75" stroke="#231F20" stroke-width="1.3" fill="none"/>
<path d="M320.45 593.50V584.00M317.15 584.00H323.75" stroke="#231F20" stroke-width="1.3" fill="none"/>
<text x="320.45" y="575.80" font-size="4.2" text-anchor="middle" fill="#fff" font-weight="normal" opacity="0.7">a,b</text>
<text x="320.45" y="598.30" font-size="4.2" text-anchor="middle" fill="#fff" font-weight="normal" opacity="0.7">c</text>
<path d="M337.05 588.00V582.80M333.75 582.80H340.35" stroke="#231F20" stroke-width="1.3" fill="none"/>
<path d="M337.05 599.80V595.50M333.75 595.50H340.35" stroke="#231F20" stroke-width="1.3" fill="none"/>
<text x="337.05" y="592.30" font-size="4.2" text-anchor="middle" fill="#fff" font-weight="normal" opacity="0.7">b</text>
<path d="M287.6 537.30V605.5H353.0" stroke="#1a1a1a" stroke-width="1.25" fill="none"/>
<path d="M284.90 540.10H287.6" stroke="#231F20" stroke-width="1.0"/>
<text x="281.40" y="542.40" font-size="6.4" text-anchor="end" fill="#231F20" font-weight="normal" textLength="9.68" lengthAdjust="spacingAndGlyphs" stroke="#231F20" stroke-width="0.22">150</text>
<path d="M284.90 561.90H287.6" stroke="#231F20" stroke-width="1.0"/>
<text x="281.40" y="564.20" font-size="6.4" text-anchor="end" fill="#231F20" font-weight="normal" textLength="9.68" lengthAdjust="spacingAndGlyphs" stroke="#231F20" stroke-width="0.22">100</text>
<path d="M284.90 583.70H287.6" stroke="#231F20" stroke-width="1.0"/>
<text x="281.40" y="586.00" font-size="6.4" text-anchor="end" fill="#231F20" font-weight="normal" textLength="6.45" lengthAdjust="spacingAndGlyphs" stroke="#231F20" stroke-width="0.22">50</text>
<path d="M284.90 605.50H287.6" stroke="#231F20" stroke-width="1.0"/>
<text x="281.40" y="607.80" font-size="6.4" text-anchor="end" fill="#231F20" font-weight="normal" textLength="3.23" lengthAdjust="spacingAndGlyphs" stroke="#231F20" stroke-width="0.22">0</text>
<path d="M304.05 605.5V608.20" stroke="#231F20" stroke-width="1.0"/>
<text x="304.05" y="616.10" font-size="6.0" text-anchor="middle" fill="#231F20" font-weight="normal" textLength="13.80" lengthAdjust="spacingAndGlyphs" stroke="#231F20" stroke-width="0.22">Young</text>
<text x="304.05" y="621.90" font-size="6.0" text-anchor="middle" fill="#231F20" font-weight="normal" textLength="7.66" lengthAdjust="spacingAndGlyphs" stroke="#231F20" stroke-width="0.22">WT</text>
<path d="M320.45 605.5V608.20" stroke="#231F20" stroke-width="1.0"/>
<text x="320.45" y="616.10" font-size="6.0" text-anchor="middle" fill="#231F20" font-weight="normal" textLength="7.67" lengthAdjust="spacingAndGlyphs" stroke="#231F20" stroke-width="0.22">Old</text>
<text x="320.45" y="621.90" font-size="6.0" text-anchor="middle" fill="#231F20" font-weight="normal" textLength="7.66" lengthAdjust="spacingAndGlyphs" stroke="#231F20" stroke-width="0.22">WT</text>
<path d="M337.05 605.5V608.20" stroke="#231F20" stroke-width="1.0"/>
<text x="337.05" y="616.10" font-size="6.0" text-anchor="middle" fill="#231F20" font-weight="normal" textLength="7.67" lengthAdjust="spacingAndGlyphs" stroke="#231F20" stroke-width="0.22">Old</text>
<text x="334.95" y="621.90" font-size="6.0" text-anchor="middle" fill="#231F20" font-weight="normal" textLength="9.58" lengthAdjust="spacingAndGlyphs" stroke="#231F20" stroke-width="0.22">TNF</text>
<text x="339.84" y="618.90" font-size="2.8" text-anchor="start" fill="#231F20" font-weight="normal" stroke="#231F20" stroke-width="0.1">&#8722;/&#8722;</text>
<path d="M304.3 560.10V557.3H320.0V560.10" stroke="#3a3f47" stroke-width="0.95" fill="none"/>
<text x="312.15" y="558.20" font-size="6.5" text-anchor="middle" fill="#3a3f47" font-weight="normal" stroke="#3a3f47" stroke-width="0.15">***</text>
<path d="M321.3 560.10V557.3H336.3V560.10" stroke="#3a3f47" stroke-width="0.95" fill="none"/>
<text x="328.80" y="558.20" font-size="6.5" text-anchor="middle" fill="#3a3f47" font-weight="normal" stroke="#3a3f47" stroke-width="0.15">***</text>
<text x="320.50" y="635.40" font-size="6.9" text-anchor="middle" fill="#231F20" font-weight="normal" textLength="87.40" lengthAdjust="spacingAndGlyphs" stroke="#231F20" stroke-width="0.22">Group <tspan font-style="italic">P</tspan> = .006 | Allele <tspan font-style="italic">P</tspan> = .0003</text>
<g transform="translate(262.80,571.40) rotate(-90)">
<text x="0" y="2.4" font-size="6.6" text-anchor="middle" fill="#231F20" stroke="#231F20" stroke-width="0.25" textLength="58.00" lengthAdjust="spacingAndGlyphs">Myeloid/lymphoid ratio</text>
</g>
<rect x="418.8" y="422.4" width="11.70" height="88.90" fill="#C0702A"/>
<rect x="418.8" y="423.3" width="11.70" height="88.00" fill="#174C86"/>
<rect x="418.8" y="480.0" width="11.70" height="31.30" fill="#2AA7E0"/>
<rect x="418.8" y="501.2" width="11.70" height="10.10" fill="#FDB515"/>
<rect x="418.8" y="506.0" width="11.70" height="5.30" fill="#C8102E"/>
<rect x="434.9" y="422.4" width="11.60" height="88.90" fill="#C0702A"/>
<rect x="434.9" y="423.3" width="11.60" height="88.00" fill="#174C86"/>
<rect x="434.9" y="475.0" width="11.60" height="36.30" fill="#2AA7E0"/>
<rect x="434.9" y="487.0" width="11.60" height="24.30" fill="#FDB515"/>
<rect x="434.9" y="499.5" width="11.60" height="11.80" fill="#C8102E"/>
<rect x="451.0" y="422.4" width="11.40" height="88.90" fill="#C0702A"/>
<rect x="451.0" y="423.3" width="11.40" height="88.00" fill="#174C86"/>
<rect x="451.0" y="486.3" width="11.40" height="25.00" fill="#2AA7E0"/>
<rect x="451.0" y="497.5" width="11.40" height="13.80" fill="#FDB515"/>
<rect x="451.0" y="504.5" width="11.40" height="6.80" fill="#C8102E"/>
<rect x="467.0" y="422.4" width="11.30" height="88.90" fill="#C0702A"/>
<rect x="467.0" y="423.3" width="11.30" height="88.00" fill="#174C86"/>
<rect x="467.0" y="475.0" width="11.30" height="36.30" fill="#2AA7E0"/>
<rect x="467.0" y="487.5" width="11.30" height="23.80" fill="#FDB515"/>
<rect x="467.0" y="499.5" width="11.30" height="11.80" fill="#C8102E"/>
<rect x="483.0" y="422.4" width="11.70" height="88.90" fill="#C0702A"/>
<rect x="483.0" y="423.3" width="11.70" height="88.00" fill="#174C86"/>
<rect x="483.0" y="476.5" width="11.70" height="34.80" fill="#2AA7E0"/>
<rect x="483.0" y="480.0" width="11.70" height="31.30" fill="#FDB515"/>
<rect x="483.0" y="498.8" width="11.70" height="12.50" fill="#C8102E"/>
<rect x="499.2" y="422.4" width="11.30" height="88.90" fill="#C0702A"/>
<rect x="499.2" y="423.3" width="11.30" height="88.00" fill="#174C86"/>
<rect x="499.2" y="484.5" width="11.30" height="26.80" fill="#2AA7E0"/>
<rect x="499.2" y="489.5" width="11.30" height="21.80" fill="#FDB515"/>
<rect x="499.2" y="502.5" width="11.30" height="8.80" fill="#C8102E"/>
<path d="M415.8 420.3V511.3H513" stroke="#231F20" stroke-width="1.1" fill="none"/>
<path d="M413.10 422.50H415.8" stroke="#231F20" stroke-width="1.0"/>
<text x="409.60" y="424.50" font-size="5.7" text-anchor="end" fill="#231F20" font-weight="normal" stroke="#231F20" stroke-width="0.22">100</text>
<path d="M413.10 466.90H415.8" stroke="#231F20" stroke-width="1.0"/>
<text x="409.60" y="468.90" font-size="5.7" text-anchor="end" fill="#231F20" font-weight="normal" stroke="#231F20" stroke-width="0.22">50</text>
<path d="M413.10 511.30H415.8" stroke="#231F20" stroke-width="1.0"/>
<text x="409.60" y="513.30" font-size="5.7" text-anchor="end" fill="#231F20" font-weight="normal" stroke="#231F20" stroke-width="0.22">0</text>
<path d="M424.65 511.3V514.00" stroke="#231F20" stroke-width="1.0"/>
<text transform="translate(423.15,519.80) rotate(-45)" x="0" y="1.8" font-size="6.0" text-anchor="end" fill="#231F20" stroke="#231F20" stroke-width="0.2">Young WT</text>
<path d="M440.70 511.3V514.00" stroke="#231F20" stroke-width="1.0"/>
<text transform="translate(439.20,519.80) rotate(-45)" x="0" y="1.8" font-size="6.0" text-anchor="end" fill="#231F20" stroke="#231F20" stroke-width="0.2">Old WT</text>
<path d="M456.70 511.3V514.00" stroke="#231F20" stroke-width="1.0"/>
<text transform="translate(455.20,519.80) rotate(-45)" x="0" y="1.8" font-size="6.0" text-anchor="end" fill="#231F20" stroke="#231F20" stroke-width="0.2">Old TNF<tspan font-size="3" dy="-1.8">&#8722;/&#8722;</tspan></text>
<path d="M472.65 511.3V514.00" stroke="#231F20" stroke-width="1.0"/>
<text transform="translate(471.15,519.80) rotate(-45)" x="0" y="1.8" font-size="6.0" text-anchor="end" fill="#231F20" stroke="#231F20" stroke-width="0.2">Young WT</text>
<path d="M488.85 511.3V514.00" stroke="#231F20" stroke-width="1.0"/>
<text transform="translate(487.35,519.80) rotate(-45)" x="0" y="1.8" font-size="6.0" text-anchor="end" fill="#231F20" stroke="#231F20" stroke-width="0.2">Old WT</text>
<path d="M504.85 511.3V514.00" stroke="#231F20" stroke-width="1.0"/>
<text transform="translate(503.35,519.80) rotate(-45)" x="0" y="1.8" font-size="6.0" text-anchor="end" fill="#231F20" stroke="#231F20" stroke-width="0.2">Old TNF<tspan font-size="3" dy="-1.8">&#8722;/&#8722;</tspan></text>
<text x="375.20" y="527.90" font-size="5.8" text-anchor="start" fill="#231F20" font-weight="normal" stroke="#231F20" stroke-width="0.22">Recipient:</text>
<path d="M418.5 544.3H462M467 544.3H510.5" stroke="#231F20" stroke-width="1.4"/>
<text x="440.40" y="553.00" font-size="6.0" text-anchor="middle" fill="#231F20" font-weight="normal" stroke="#231F20" stroke-width="0.22">CD45.1</text>
<text x="488.80" y="553.00" font-size="6.0" text-anchor="middle" fill="#231F20" font-weight="normal" stroke="#231F20" stroke-width="0.22">CD45.2</text>
<g transform="translate(391.30,465.80) rotate(-90)">
<text x="0" y="2.4" font-size="6.6" text-anchor="middle" fill="#231F20" stroke="#231F20" stroke-width="0.25" textLength="75.00" lengthAdjust="spacingAndGlyphs">Relative leukocyte populations</text>
</g>
<rect x="416.0" y="563.60" width="5.5" height="5.6" fill="#3F4E5E"/>
<text x="424.80" y="568.80" font-size="6.9" text-anchor="start" fill="#231F20" font-weight="normal" textLength="24.71" lengthAdjust="spacingAndGlyphs" stroke="#231F20" stroke-width="0.22">NKT cells</text>
<rect x="457.8" y="563.60" width="5.5" height="5.6" fill="#2AA7E0"/>
<text x="466.60" y="568.80" font-size="6.9" text-anchor="start" fill="#231F20" font-weight="normal" textLength="16.65" lengthAdjust="spacingAndGlyphs" stroke="#231F20" stroke-width="0.22">T cells</text>
<rect x="416.0" y="573.20" width="5.5" height="5.6" fill="#C0702A"/>
<text x="424.80" y="578.40" font-size="6.9" text-anchor="start" fill="#231F20" font-weight="normal" textLength="21.27" lengthAdjust="spacingAndGlyphs" stroke="#231F20" stroke-width="0.22">NK cells</text>
<rect x="457.8" y="573.20" width="5.5" height="5.6" fill="#FDB515"/>
<text x="466.60" y="578.40" font-size="6.9" text-anchor="start" fill="#231F20" font-weight="normal" textLength="29.34" lengthAdjust="spacingAndGlyphs" stroke="#231F20" stroke-width="0.22">Neutrophils</text>
<rect x="416.0" y="582.80" width="5.5" height="5.6" fill="#174C86"/>
<text x="424.80" y="588.00" font-size="6.9" text-anchor="start" fill="#231F20" font-weight="normal" textLength="17.08" lengthAdjust="spacingAndGlyphs" stroke="#231F20" stroke-width="0.22">B cells</text>
<rect x="457.8" y="582.80" width="5.5" height="5.6" fill="#C8102E"/>
<text x="466.60" y="588.00" font-size="6.9" text-anchor="start" fill="#231F20" font-weight="normal" textLength="28.04" lengthAdjust="spacingAndGlyphs" stroke="#231F20" stroke-width="0.22">Monocytes</text>
<rect x="131.3" y="648" width="5.2" height="5.2" fill="#25A6E1"/>
<text x="140.00" y="652.60" font-size="6.1" text-anchor="start" fill="#231F20" font-weight="normal" stroke="#231F20" stroke-width="0.22">WT (CD45.1)</text>
<rect x="185.0" y="648" width="5.2" height="5.2" fill="#F2910A"/>
<text x="193.80" y="652.60" font-size="6.1" text-anchor="start" fill="#231F20" font-weight="normal" stroke="#231F20" stroke-width="0.22"><tspan font-style="italic">Tet2</tspan><tspan font-size="3.5" dy="-2">&#8722;/&#8722;</tspan><tspan dy="2"> (CD45.2)</tspan></text>
<path d="M0.5 0V661M0 0.5H520M518.8 0V661M0 659.8H520" stroke="#4a4a4a" stroke-width="1.2" fill="none"/>
</g>
</svg>
</body></html>
